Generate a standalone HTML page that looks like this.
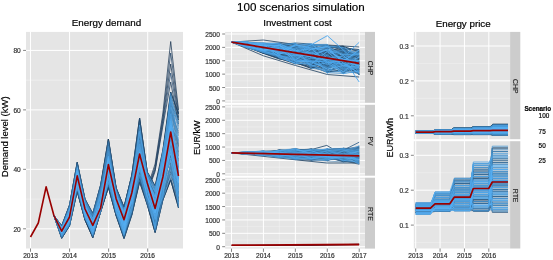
<!DOCTYPE html>
<html><head><meta charset="utf-8"><style>
html,body{margin:0;padding:0;background:#fff;}
body{width:553px;height:260px;overflow:hidden;font-family:"Liberation Sans", sans-serif;}
svg{display:block;will-change:transform;}
</style></head><body>
<svg width="553" height="260" viewBox="0 0 553 260" font-family='"Liberation Sans", sans-serif'>
<style>polyline{fill:none;stroke-linejoin:round;}</style>
<rect x="0.00" y="0.00" width="553.00" height="260.00" fill="#FFFFFF"/>
<text x="237.00" y="11.40" font-size="11.6" fill="#000" stroke="#000" stroke-width="0.18" text-anchor="start" font-weight="normal">100 scenarios simulation</text>
<text x="71.70" y="26.40" font-size="9.85" fill="#000" stroke="#000" stroke-width="0.18" text-anchor="start" font-weight="normal">Energy demand</text>
<text x="263.20" y="26.20" font-size="9.8" fill="#000" stroke="#000" stroke-width="0.18" text-anchor="start" font-weight="normal">Investment cost</text>
<rect x="26.00" y="31.90" width="157.00" height="216.60" fill="#E5E5E5"/>
<line x1="26.00" y1="199.07" x2="183.00" y2="199.07" stroke="#F3F3F3" stroke-width="0.6"/>
<line x1="26.00" y1="139.61" x2="183.00" y2="139.61" stroke="#F3F3F3" stroke-width="0.6"/>
<line x1="26.00" y1="80.15" x2="183.00" y2="80.15" stroke="#F3F3F3" stroke-width="0.6"/>
<line x1="26.00" y1="228.80" x2="183.00" y2="228.80" stroke="#FFFFFF" stroke-width="1.0"/>
<line x1="26.00" y1="169.34" x2="183.00" y2="169.34" stroke="#FFFFFF" stroke-width="1.0"/>
<line x1="26.00" y1="109.88" x2="183.00" y2="109.88" stroke="#FFFFFF" stroke-width="1.0"/>
<line x1="26.00" y1="50.42" x2="183.00" y2="50.42" stroke="#FFFFFF" stroke-width="1.0"/>
<line x1="30.50" y1="31.90" x2="30.50" y2="248.50" stroke="#FFFFFF" stroke-width="1.0"/>
<line x1="69.57" y1="31.90" x2="69.57" y2="248.50" stroke="#FFFFFF" stroke-width="1.0"/>
<line x1="108.64" y1="31.90" x2="108.64" y2="248.50" stroke="#FFFFFF" stroke-width="1.0"/>
<line x1="147.71" y1="31.90" x2="147.71" y2="248.50" stroke="#FFFFFF" stroke-width="1.0"/>
<polyline points="139.6,158.0 147.3,188.0 155.1,164.0 162.9,113.0 170.7,41.5 178.5,110.0" stroke="#1b3652" stroke-width="0.75"/>
<polyline points="139.6,158.0 147.3,190.0 155.1,166.5 162.9,117.0 170.7,53.0 178.5,113.0" stroke="#24456a" stroke-width="0.75"/>
<polyline points="139.6,158.0 147.3,191.0 155.1,169.0 162.9,120.0 170.7,64.0 178.5,117.0" stroke="#1b3652" stroke-width="0.75"/>
<polyline points="139.6,158.0 147.3,192.0 155.1,170.0 162.9,123.0 170.7,73.0 178.5,120.0" stroke="#2b5078" stroke-width="0.75"/>
<polyline points="139.6,158.0 147.3,193.0 155.1,171.5 162.9,126.0 170.7,82.0 178.5,124.0" stroke="#1f3d5c" stroke-width="0.75"/>
<polyline points="53.9,215.5 61.7,225.8 69.5,205.0 77.2,162.3 85.0,199.0 92.8,213.3 100.6,185.0 108.4,139.0 116.2,188.0 124.0,207.0 131.8,175.0 139.6,118.0 147.3,172.0 155.1,186.0 162.9,150.0 170.7,92.0 178.5,114.0" stroke="#1c3d5c" stroke-width="1.0"/>
<polyline points="53.9,215.5 61.7,238.3 69.5,226.0 77.2,191.5 85.0,220.0 92.8,237.7 100.6,212.0 108.4,187.5 116.2,216.0 124.0,238.5 131.8,215.0 139.6,182.0 147.3,205.0 155.1,232.5 162.9,200.0 170.7,180.0 178.5,208.0" stroke="#1c3d5c" stroke-width="1.0"/>
<polyline points="53.9,215.5 61.7,227.0 69.5,209.2 77.2,173.5 85.0,200.9 92.8,218.9 100.6,192.6 108.4,144.3 116.2,192.4 124.0,214.5 131.8,181.7 139.6,119.9 147.3,172.0 155.1,186.0 162.9,155.8 170.7,105.2 178.5,118.0" stroke="#132b43" stroke-width="0.6"/>
<polyline points="53.9,215.5 61.7,234.6 69.5,214.0 77.2,169.6 85.0,207.3 92.8,214.5 100.6,186.1 108.4,139.0 116.2,188.8 124.0,207.3 131.8,177.2 139.6,126.7 147.3,176.4 155.1,194.9 162.9,150.9 170.7,94.6 178.5,119.9" stroke="#183651" stroke-width="0.6"/>
<polyline points="53.9,215.5 61.7,236.8 69.5,218.6 77.2,190.7 85.0,220.0 92.8,237.4 100.6,211.8 108.4,186.4 116.2,210.0 124.0,226.2 131.8,201.1 139.6,172.8 147.3,197.8 155.1,221.9 162.9,198.9 170.7,163.1 178.5,201.9" stroke="#1b3b58" stroke-width="0.6"/>
<polyline points="53.9,215.5 61.7,238.1 69.5,225.8 77.2,190.4 85.0,219.7 92.8,236.2 100.6,211.9 108.4,184.7 116.2,210.8 124.0,234.5 131.8,212.4 139.6,180.6 147.3,200.8 155.1,208.6 162.9,175.1 170.7,119.9 178.5,151.8" stroke="#1d3f5d" stroke-width="0.6"/>
<polyline points="53.9,215.5 61.7,230.5 69.5,210.6 77.2,169.2 85.0,206.9 92.8,230.7 100.6,211.0 108.4,184.2 116.2,215.2 124.0,236.7 131.8,210.3 139.6,178.6 147.3,204.5 155.1,229.6 162.9,192.4 170.7,180.0 178.5,206.5" stroke="#1e4262" stroke-width="0.6"/>
<polyline points="53.9,215.5 61.7,234.1 69.5,225.1 77.2,191.1 85.0,219.2 92.8,236.8 100.6,211.6 108.4,187.5 116.2,216.0 124.0,230.6 131.8,208.8 139.6,173.4 147.3,190.6 155.1,216.8 162.9,189.9 170.7,155.7 178.5,158.4" stroke="#204566" stroke-width="0.6"/>
<polyline points="53.9,215.5 61.7,231.6 69.5,213.8 77.2,186.3 85.0,218.4 92.8,237.7 100.6,212.0 108.4,186.9 116.2,214.8 124.0,238.0 131.8,212.9 139.6,179.3 147.3,201.3 155.1,215.9 162.9,186.4 170.7,138.6 178.5,155.9" stroke="#21486a" stroke-width="0.6"/>
<polyline points="53.9,215.5 61.7,237.8 69.5,222.2 77.2,188.1 85.0,217.9 92.8,225.4 100.6,201.8 108.4,151.9 116.2,203.9 124.0,218.4 131.8,198.0 139.6,177.3 147.3,203.9 155.1,232.5 162.9,200.0 170.7,178.8 178.5,201.2" stroke="#234a6d" stroke-width="0.6"/>
<polyline points="53.9,215.5 61.7,226.1 69.5,205.0 77.2,162.3 85.0,199.0 92.8,216.2 100.6,207.0 108.4,145.1 116.2,189.3 124.0,215.3 131.8,197.2 139.6,168.4 147.3,195.3 155.1,217.3 162.9,186.9 170.7,154.7 178.5,197.5" stroke="#244d70" stroke-width="0.6"/>
<polyline points="53.9,215.5 61.7,228.8 69.5,208.1 77.2,166.8 85.0,203.0 92.8,217.8 100.6,194.6 108.4,150.5 116.2,198.2 124.0,216.1 131.8,182.5 139.6,150.8 147.3,175.1 155.1,189.8 162.9,159.7 170.7,92.0 178.5,114.0" stroke="#254f73" stroke-width="0.6"/>
<polyline points="53.9,215.5 61.7,238.3 69.5,224.9 77.2,190.0 85.0,214.9 92.8,225.9 100.6,208.6 108.4,185.3 116.2,196.9 124.0,220.5 131.8,205.3 139.6,171.5 147.3,203.4 155.1,231.9 162.9,198.3 170.7,172.0 178.5,183.9" stroke="#265176" stroke-width="0.6"/>
<polyline points="53.9,215.5 61.7,235.2 69.5,218.4 77.2,181.6 85.0,202.5 92.8,216.7 100.6,198.6 108.4,174.9 116.2,200.2 124.0,231.5 131.8,214.5 139.6,182.0 147.3,192.9 155.1,226.3 162.9,194.5 170.7,174.2 178.5,198.9" stroke="#275379" stroke-width="0.6"/>
<polyline points="53.9,215.5 61.7,236.9 69.5,220.3 77.2,181.3 85.0,216.6 92.8,235.9 100.6,210.4 108.4,171.1 116.2,213.6 124.0,238.5 131.8,215.0 139.6,178.0 147.3,199.8 155.1,220.4 162.9,188.4 170.7,137.8 178.5,174.7" stroke="#28557b" stroke-width="0.6"/>
<polyline points="53.9,215.5 61.7,228.1 69.5,208.7 77.2,166.0 85.0,206.5 92.8,223.7 100.6,195.6 108.4,139.9 116.2,189.1 124.0,208.8 131.8,175.9 139.6,137.7 147.3,175.6 155.1,195.9 162.9,163.2 170.7,108.5 178.5,144.4" stroke="#29577e" stroke-width="0.6"/>
<polyline points="53.9,215.5 61.7,227.7 69.5,216.3 77.2,184.9 85.0,211.3 92.8,222.6 100.6,198.1 108.4,149.8 116.2,190.6 124.0,212.6 131.8,178.9 139.6,123.4 147.3,174.1 155.1,193.9 162.9,157.4 170.7,101.8 178.5,125.6" stroke="#2a5980" stroke-width="0.6"/>
<polyline points="53.9,215.5 61.7,230.1 69.5,215.3 77.2,172.2 85.0,203.2 92.8,215.3 100.6,185.6 108.4,153.2 116.2,188.3 124.0,207.9 131.8,176.3 139.6,118.0 147.3,173.6 155.1,199.8 162.9,173.6 170.7,130.0 178.5,154.5" stroke="#2b5a83" stroke-width="0.6"/>
<polyline points="53.9,215.5 61.7,230.3 69.5,213.3 77.2,162.7 85.0,200.2 92.8,217.0 100.6,188.3 108.4,143.4 116.2,188.0 124.0,207.0 131.8,175.4 139.6,153.2 147.3,194.3 155.1,211.0 162.9,182.3 170.7,158.8 178.5,173.0" stroke="#2c5c85" stroke-width="0.6"/>
<polyline points="53.9,215.5 61.7,236.0 69.5,221.8 77.2,178.8 85.0,201.4 92.8,220.5 100.6,199.5 108.4,142.6 116.2,190.4 124.0,207.6 131.8,177.6 139.6,138.8 147.3,178.3 155.1,201.1 162.9,175.4 170.7,111.6 178.5,147.4" stroke="#2c5e87" stroke-width="0.6"/>
<polyline points="53.9,215.5 61.7,236.6 69.5,221.3 77.2,191.5 85.0,219.5 92.8,233.1 100.6,211.1 108.4,183.7 116.2,211.2 124.0,212.9 131.8,182.9 139.6,144.6 147.3,174.4 155.1,207.9 162.9,176.9 170.7,130.4 178.5,160.9" stroke="#2d5f89" stroke-width="0.6"/>
<polyline points="53.9,215.5 61.7,226.3 69.5,208.9 77.2,164.0 85.0,205.1 92.8,221.0 100.6,200.0 108.4,154.5 116.2,189.8 124.0,209.7 131.8,202.9 139.6,167.2 147.3,191.1 155.1,208.4 162.9,175.7 170.7,122.2 178.5,145.9" stroke="#2e618c" stroke-width="0.6"/>
<polyline points="53.9,215.5 61.7,237.4 69.5,219.2 77.2,186.7 85.0,212.8 92.8,226.7 100.6,205.2 108.4,161.0 116.2,189.6 124.0,208.2 131.8,175.0 139.6,121.7 147.3,183.9 155.1,230.2 162.9,194.0 170.7,132.2 178.5,167.3" stroke="#2f638e" stroke-width="0.6"/>
<polyline points="53.9,215.5 61.7,230.7 69.5,217.0 77.2,184.2 85.0,209.5 92.8,236.5 100.6,211.5 108.4,185.8 116.2,215.6 124.0,237.1 131.8,211.3 139.6,169.7 147.3,198.3 155.1,227.4 162.9,177.0 170.7,117.3 178.5,168.2" stroke="#306490" stroke-width="0.6"/>
<polyline points="53.9,215.5 61.7,236.5 69.5,224.3 77.2,186.0 85.0,215.2 92.8,228.7 100.6,209.3 108.4,175.9 116.2,203.2 124.0,217.0 131.8,184.5 139.6,155.6 147.3,192.5 155.1,225.2 162.9,196.7 170.7,177.7 178.5,204.2" stroke="#306692" stroke-width="0.6"/>
<polyline points="53.9,215.5 61.7,229.1 69.5,218.9 77.2,185.6 85.0,211.9 92.8,230.4 100.6,210.8 108.4,181.5 116.2,210.4 124.0,222.0 131.8,190.8 139.6,152.5 147.3,178.7 155.1,190.3 162.9,150.0 170.7,109.6 178.5,132.8" stroke="#316794" stroke-width="0.6"/>
<polyline points="53.9,215.5 61.7,230.2 69.5,211.8 77.2,164.4 85.0,206.1 92.8,217.3 100.6,204.8 108.4,164.4 116.2,205.6 124.0,227.4 131.8,207.8 139.6,172.2 147.3,197.3 155.1,222.5 162.9,197.8 170.7,165.3 178.5,204.9" stroke="#326896" stroke-width="0.6"/>
<polyline points="53.9,215.5 61.7,225.8 69.5,205.3 77.2,163.6 85.0,199.7 92.8,215.9 100.6,186.7 108.4,149.0 116.2,195.6 124.0,219.0 131.8,189.2 139.6,159.9 147.3,184.9 155.1,212.2 162.9,176.4 170.7,140.3 178.5,187.1" stroke="#326a97" stroke-width="0.6"/>
<polyline points="53.9,215.5 61.7,232.1 69.5,223.9 77.2,187.4 85.0,209.0 92.8,222.9 100.6,208.3 108.4,163.2 116.2,192.1 124.0,209.4 131.8,176.7 139.6,129.8 147.3,173.8 155.1,192.9 162.9,187.4 170.7,176.5 178.5,189.8" stroke="#336b99" stroke-width="0.6"/>
<polyline points="53.9,215.5 61.7,235.6 69.5,221.4 77.2,189.2 85.0,214.0 92.8,232.8 100.6,208.7 108.4,172.0 116.2,207.8 124.0,234.9 131.8,207.3 139.6,157.4 147.3,189.3 155.1,205.4 162.9,180.2 170.7,168.6 178.5,202.6" stroke="#346d9b" stroke-width="0.6"/>
<polyline points="53.9,215.5 61.7,226.4 69.5,210.0 77.2,165.2 85.0,205.7 92.8,228.5 100.6,210.6 108.4,167.7 116.2,196.1 124.0,223.3 131.8,204.3 139.6,176.7 147.3,202.9 155.1,227.9 162.9,190.4 170.7,128.7 178.5,179.3" stroke="#346e9d" stroke-width="0.6"/>
<polyline points="53.9,215.5 61.7,233.4 69.5,216.8 77.2,183.6 85.0,211.7 92.8,233.9 100.6,211.1 108.4,181.0 116.2,202.9 124.0,229.0 131.8,203.9 139.6,180.0 147.3,194.8 155.1,223.5 162.9,195.6 170.7,170.8 178.5,198.2" stroke="#356f9f" stroke-width="0.6"/>
<polyline points="53.9,215.5 61.7,228.4 69.5,222.6 77.2,174.5 85.0,209.6 92.8,219.9 100.6,208.9 108.4,179.4 116.2,205.2 124.0,236.2 131.8,209.3 139.6,181.3 147.3,201.8 155.1,218.3 162.9,184.1 170.7,144.8 178.5,187.8" stroke="#3670a0" stroke-width="0.6"/>
<polyline points="53.9,215.5 61.7,227.9 69.5,212.8 77.2,164.8 85.0,201.1 92.8,223.5 100.6,207.4 108.4,175.4 116.2,204.2 124.0,222.3 131.8,187.5 139.6,142.9 147.3,172.8 155.1,187.6 162.9,154.2 170.7,112.6 178.5,176.1" stroke="#3672a2" stroke-width="0.6"/>
<polyline points="53.9,215.5 61.7,231.3 69.5,220.1 77.2,180.9 85.0,218.7 92.8,231.2 100.6,209.1 108.4,170.2 116.2,208.9 124.0,233.6 131.8,213.4 139.6,170.3 147.3,200.3 155.1,229.1 162.9,185.0 170.7,145.8 178.5,205.7" stroke="#3773a4" stroke-width="0.6"/>
<polyline points="53.9,215.5 61.7,225.9 69.5,207.3 77.2,167.1 85.0,204.3 92.8,215.0 100.6,199.1 108.4,172.5 116.2,201.9 124.0,217.3 131.8,182.1 139.6,153.9 147.3,182.4 155.1,198.3 162.9,180.6 170.7,156.7 178.5,195.3" stroke="#3874a5" stroke-width="0.6"/>
<polyline points="53.9,215.5 61.7,235.0 69.5,219.9 77.2,177.2 85.0,209.3 92.8,226.1 100.6,192.0 108.4,140.8 116.2,191.1 124.0,211.2 131.8,181.3 139.6,128.3 147.3,173.3 155.1,188.2 162.9,181.4 170.7,125.8 178.5,185.2" stroke="#3875a7" stroke-width="0.6"/>
<polyline points="53.9,215.5 61.7,231.9 69.5,207.0 77.2,165.6 85.0,199.2 92.8,216.5 100.6,209.2 108.4,176.9 116.2,208.5 124.0,219.6 131.8,184.9 139.6,148.2 147.3,177.6 155.1,221.4 162.9,185.9 170.7,135.4 178.5,192.5" stroke="#3977a9" stroke-width="0.6"/>
<polyline points="53.9,215.5 61.7,228.5 69.5,216.0 77.2,174.3 85.0,201.6 92.8,218.1 100.6,200.5 108.4,167.3 116.2,194.3 124.0,210.3 131.8,186.8 139.6,153.7 147.3,192.0 155.1,224.1 162.9,191.4 170.7,152.6 178.5,208.0" stroke="#3978aa" stroke-width="0.6"/>
<polyline points="53.9,215.5 61.7,227.8 69.5,207.8 77.2,173.7 85.0,210.1 92.8,231.5 100.6,201.4 108.4,155.6 116.2,188.5 124.0,208.5 131.8,180.5 139.6,134.0 147.3,177.3 155.1,197.9 162.9,179.0 170.7,129.6 178.5,153.2" stroke="#3a79ac" stroke-width="0.6"/>
<polyline points="53.9,215.5 61.7,235.8 69.5,224.5 77.2,189.6 85.0,217.1 92.8,228.0 100.6,208.5 108.4,177.4 116.2,213.2 124.0,237.6 131.8,213.9 139.6,176.0 147.3,184.6 155.1,210.6 162.9,167.1 170.7,143.0 178.5,173.6" stroke="#3b7aad" stroke-width="0.6"/>
<polyline points="53.9,215.5 61.7,230.8 69.5,210.3 77.2,175.9 85.0,203.4 92.8,224.7 100.6,191.5 108.4,164.2 116.2,195.2 124.0,210.0 131.8,179.7 139.6,146.2 147.3,174.6 155.1,192.4 162.9,165.8 170.7,115.5 178.5,116.0" stroke="#3b7baf" stroke-width="0.6"/>
<polyline points="53.9,215.5 61.7,230.5 69.5,211.3 77.2,171.1 85.0,200.4 92.8,213.3 100.6,189.9 108.4,163.6 116.2,202.3 124.0,232.3 131.8,206.3 139.6,161.0 147.3,186.0 155.1,206.9 162.9,167.7 170.7,98.3 178.5,121.8" stroke="#3c7cb0" stroke-width="0.6"/>
<polyline points="53.9,215.5 61.7,233.7 69.5,217.8 77.2,175.3 85.0,214.2 92.8,229.9 100.6,207.9 108.4,166.9 116.2,193.6 124.0,214.2 131.8,178.0 139.6,136.5 147.3,172.5 155.1,186.5 162.9,161.1 170.7,110.6 178.5,136.2" stroke="#3c7eb2" stroke-width="0.6"/>
<polyline points="53.9,215.5 61.7,236.1 69.5,218.2 77.2,178.5 85.0,207.1 92.8,221.9 100.6,196.1 108.4,146.7 116.2,197.3 124.0,225.1 131.8,187.8 139.6,141.9 147.3,175.4 155.1,193.4 162.9,153.4 170.7,114.5 178.5,131.0" stroke="#3d7fb3" stroke-width="0.6"/>
<polyline points="53.9,215.5 61.7,227.6 69.5,205.6 77.2,163.2 85.0,201.8 92.8,217.6 100.6,209.0 108.4,173.9 116.2,199.3 124.0,221.0 131.8,193.6 139.6,165.5 147.3,193.9 155.1,214.0 162.9,193.0 170.7,167.5 178.5,193.9" stroke="#3d80b5" stroke-width="0.6"/>
<polyline points="53.9,215.5 61.7,227.5 69.5,209.8 77.2,173.2 85.0,204.5 92.8,220.2 100.6,189.4 108.4,155.1 116.2,190.9 124.0,211.5 131.8,179.3 139.6,135.3 147.3,177.1 155.1,191.3 162.9,181.8 170.7,139.5 178.5,178.8" stroke="#3e81b6" stroke-width="0.6"/>
<polyline points="53.9,215.5 61.7,237.1 69.5,224.7 77.2,182.2 85.0,202.1 92.8,225.1 100.6,208.4 108.4,153.8 116.2,194.0 124.0,209.1 131.8,204.8 139.6,175.4 147.3,198.8 155.1,220.9 162.9,171.4 170.7,127.6 178.5,139.6" stroke="#3e82b8" stroke-width="0.6"/>
<polyline points="53.9,215.5 61.7,231.1 69.5,214.5 77.2,174.8 85.0,209.0 92.8,225.4 100.6,210.3 108.4,182.6 116.2,214.4 124.0,235.8 131.8,209.8 139.6,162.6 147.3,193.4 155.1,230.8 162.9,197.2 170.7,166.4 178.5,194.6" stroke="#3f83b9" stroke-width="0.6"/>
<polyline points="53.9,215.5 61.7,234.0 69.5,219.6 77.2,179.7 85.0,209.8 92.8,219.4 100.6,191.0 108.4,168.5 116.2,207.4 124.0,230.2 131.8,208.3 139.6,174.1 147.3,202.4 155.1,223.0 162.9,189.4 170.7,173.1 178.5,191.8" stroke="#3f84ba" stroke-width="0.6"/>
<polyline points="53.9,215.5 61.7,232.6 69.5,217.0 77.2,172.0 85.0,200.7 92.8,214.2 100.6,185.0 108.4,148.3 116.2,193.3 124.0,212.3 131.8,196.8 139.6,153.8 147.3,185.7 155.1,215.4 162.9,174.0 170.7,106.3 178.5,134.5" stroke="#4085bc" stroke-width="0.6"/>
<polyline points="53.9,215.5 61.7,228.2 69.5,206.7 77.2,174.7 85.0,215.6 92.8,224.5 100.6,194.1 108.4,162.0 116.2,201.1 124.0,215.0 131.8,183.3 139.6,141.0 147.3,173.1 155.1,188.7 162.9,169.4 170.7,132.7 178.5,200.4" stroke="#4186bd" stroke-width="0.6"/>
<polyline points="53.9,215.5 61.7,233.5 69.5,219.1 77.2,175.8 85.0,205.9 92.8,213.9 100.6,187.2 108.4,145.9 116.2,191.9 124.0,216.5 131.8,190.5 139.6,149.9 147.3,181.1 155.1,208.2 162.9,172.8 170.7,103.0 178.5,129.2" stroke="#4187bf" stroke-width="0.6"/>
<polyline points="53.9,215.5 61.7,227.1 69.5,206.2 77.2,170.8 85.0,202.7 92.8,214.8 100.6,188.8 108.4,163.8 116.2,196.5 124.0,218.8 131.8,192.5 139.6,156.0 147.3,190.2 155.1,226.8 162.9,177.6 170.7,162.0 178.5,189.1" stroke="#4288c0" stroke-width="0.6"/>
<polyline points="53.9,215.5 61.7,226.7 69.5,208.4 77.2,169.9 85.0,200.0 92.8,213.6 100.6,187.8 108.4,157.3 116.2,197.5 124.0,219.5 131.8,191.1 139.6,154.0 147.3,183.3 155.1,225.7 162.9,182.7 170.7,134.0 178.5,193.2" stroke="#4289c1" stroke-width="0.6"/>
<polyline points="53.9,215.5 61.7,226.2 69.5,210.8 77.2,170.5 85.0,203.6 92.8,215.6 100.6,193.6 108.4,147.5 116.2,192.6 124.0,214.8 131.8,193.9 139.6,153.9 147.3,180.5 155.1,203.8 162.9,174.7 170.7,131.9 178.5,162.0" stroke="#438ac3" stroke-width="0.6"/>
<polyline points="53.9,215.5 61.7,237.6 69.5,223.4 77.2,182.6 85.0,209.2 92.8,221.4 100.6,190.5 108.4,141.7 116.2,192.8 124.0,213.7 131.8,186.0 139.6,153.5 147.3,186.4 155.1,214.9 162.9,193.5 170.7,146.7 178.5,181.0" stroke="#438bc4" stroke-width="0.6"/>
<polyline points="53.9,215.5 61.7,228.6 69.5,206.4 77.2,168.2 85.0,204.7 92.8,219.2 100.6,197.6 108.4,160.6 116.2,199.7 124.0,228.6 131.8,201.5 139.6,151.6 147.3,183.1 155.1,195.4 162.9,166.5 170.7,99.5 178.5,142.8" stroke="#438cc5" stroke-width="0.6"/>
<polyline points="53.9,215.5 61.7,237.3 69.5,226.0 77.2,180.6 85.0,215.9 92.8,232.3 100.6,209.7 108.4,166.5 116.2,194.5 124.0,215.5 131.8,198.9 139.6,156.4 147.3,186.8 155.1,206.2 162.9,178.3 170.7,123.7 178.5,171.6" stroke="#448dc7" stroke-width="0.6"/>
<polyline points="53.9,215.5 61.7,235.5 69.5,223.7 77.2,180.3 85.0,216.4 92.8,234.8 100.6,211.3 108.4,180.5 116.2,199.1 124.0,219.3 131.8,191.7 139.6,151.2 147.3,182.2 155.1,212.7 162.9,185.5 170.7,169.7 178.5,199.7" stroke="#448ec8" stroke-width="0.6"/>
<polyline points="53.9,215.5 61.7,231.4 69.5,218.7 77.2,173.9 85.0,212.2 92.8,225.6 100.6,210.0 108.4,179.9 116.2,209.6 124.0,228.2 131.8,199.8 139.6,148.8 147.3,178.5 155.1,203.3 162.9,158.9 170.7,93.3 178.5,148.9" stroke="#458fc9" stroke-width="0.6"/>
<polyline points="53.9,215.5 61.7,229.9 69.5,220.5 77.2,188.5 85.0,218.2 92.8,233.7 100.6,208.6 108.4,164.0 116.2,195.4 124.0,211.8 131.8,186.4 139.6,146.9 147.3,180.9 155.1,214.5 162.9,190.9 170.7,164.2 178.5,186.5" stroke="#4590ca" stroke-width="0.6"/>
<polyline points="53.9,215.5 61.7,238.0 69.5,223.2 77.2,179.4 85.0,212.6 92.8,235.6 100.6,208.2 108.4,164.5 116.2,194.7 124.0,218.6 131.8,203.4 139.6,164.3 147.3,180.7 155.1,204.2 162.9,173.2 170.7,104.1 178.5,159.7" stroke="#4691cc" stroke-width="0.6"/>
<polyline points="53.9,215.5 61.7,235.3 69.5,225.6 77.2,187.1 85.0,208.4 92.8,233.4 100.6,209.6 108.4,178.4 116.2,214.0 124.0,222.6 131.8,197.6 139.6,154.0 147.3,185.3 155.1,208.9 162.9,168.8 170.7,128.1 178.5,178.3" stroke="#4692cd" stroke-width="0.6"/>
<polyline points="53.9,215.5 61.7,227.2 69.5,217.1 77.2,175.7 85.0,208.1 92.8,235.1 100.6,210.7 108.4,161.3 116.2,198.5 124.0,213.4 131.8,199.3 139.6,152.8 147.3,179.0 155.1,190.8 162.9,160.4 170.7,100.7 178.5,141.2" stroke="#4793ce" stroke-width="0.6"/>
<polyline points="53.9,215.5 61.7,228.3 69.5,213.1 77.2,168.6 85.0,208.7 92.8,227.1 100.6,204.0 108.4,152.5 116.2,191.4 124.0,225.8 131.8,211.8 139.6,154.0 147.3,174.9 155.1,198.8 162.9,170.9 170.7,116.4 178.5,170.8" stroke="#4794cf" stroke-width="0.6"/>
<polyline points="53.9,215.5 61.7,233.8 69.5,215.1 77.2,175.6 85.0,216.9 92.8,235.4 100.6,209.1 108.4,151.2 116.2,190.1 124.0,210.9 131.8,180.1 139.6,139.9 147.3,179.2 155.1,206.5 162.9,178.6 170.7,161.0 178.5,172.3" stroke="#4894d1" stroke-width="0.6"/>
<polyline points="53.9,215.5 61.7,230.0 69.5,205.9 77.2,168.9 85.0,208.0 92.8,224.1 100.6,197.1 108.4,157.8 116.2,197.9 124.0,217.7 131.8,191.4 139.6,166.0 147.3,182.0 155.1,202.0 162.9,155.0 170.7,97.0 178.5,127.4" stroke="#4895d2" stroke-width="0.6"/>
<polyline points="53.9,215.5 61.7,231.0 69.5,221.6 77.2,176.5 85.0,206.3 92.8,224.9 100.6,205.6 108.4,162.7 116.2,212.4 124.0,232.7 131.8,200.2 139.6,170.9 147.3,205.0 155.1,224.6 162.9,184.5 170.7,151.6 178.5,176.9" stroke="#4996d3" stroke-width="0.6"/>
<polyline points="53.9,215.5 61.7,229.8 69.5,215.6 77.2,175.0 85.0,216.1 92.8,237.1 100.6,211.7 108.4,178.9 116.2,204.6 124.0,224.0 131.8,192.0 139.6,157.9 147.3,189.8 155.1,218.8 162.9,191.9 170.7,137.0 178.5,164.3" stroke="#4997d4" stroke-width="0.6"/>
<polyline points="53.9,215.5 61.7,230.4 69.5,216.7 77.2,176.2 85.0,213.5 92.8,227.3 100.6,208.1 108.4,159.7 116.2,195.8 124.0,216.3 131.8,185.6 139.6,147.6 147.3,176.1 155.1,201.6 162.9,163.9 170.7,95.8 178.5,123.7" stroke="#4998d5" stroke-width="0.6"/>
<polyline points="53.9,215.5 61.7,234.4 69.5,217.5 77.2,176.7 85.0,213.0 92.8,230.2 100.6,209.5 108.4,183.1 116.2,212.8 124.0,218.2 131.8,187.1 139.6,154.1 147.3,182.8 155.1,196.4 162.9,151.7 170.7,107.4 178.5,176.0" stroke="#4a99d7" stroke-width="0.6"/>
<polyline points="53.9,215.5 61.7,229.6 69.5,225.3 77.2,188.9 85.0,218.9 92.8,228.2 100.6,208.3 108.4,170.7 116.2,201.3 124.0,224.4 131.8,198.5 139.6,153.4 147.3,183.6 155.1,202.5 162.9,188.9 170.7,143.9 178.5,188.4" stroke="#4a9ad8" stroke-width="0.6"/>
<polyline points="53.9,215.5 61.7,228.9 69.5,217.4 77.2,175.7 85.0,203.8 92.8,220.7 100.6,206.4 108.4,161.7 116.2,200.5 124.0,227.0 131.8,192.7 139.6,132.6 147.3,172.3 155.1,187.1 162.9,164.6 170.7,132.0 178.5,190.4" stroke="#4b9bd9" stroke-width="0.6"/>
<polyline points="53.9,215.5 61.7,227.3 69.5,207.6 77.2,173.0 85.0,210.0 92.8,226.5 100.6,209.8 108.4,165.5 116.2,198.7 124.0,229.8 131.8,205.8 139.6,174.7 147.3,183.0 155.1,194.4 162.9,156.6 170.7,126.4 178.5,185.8" stroke="#4b9bda" stroke-width="0.6"/>
<polyline points="53.9,215.5 61.7,234.7 69.5,219.4 77.2,180.0 85.0,205.5 92.8,222.2 100.6,202.3 108.4,156.8 116.2,198.8 124.0,234.0 131.8,210.8 139.6,166.6 147.3,199.3 155.1,219.3 162.9,187.9 170.7,141.2 178.5,184.6" stroke="#4c9cdb" stroke-width="0.6"/>
<polyline points="53.9,215.5 61.7,233.0 69.5,216.1 77.2,175.4 85.0,199.5 92.8,218.6 100.6,193.1 108.4,159.3 116.2,204.9 124.0,221.7 131.8,202.5 139.6,167.8 147.3,188.0 155.1,209.2 162.9,174.4 170.7,147.7 178.5,196.0" stroke="#4c9ddc" stroke-width="0.6"/>
<polyline points="53.9,215.5 61.7,233.2 69.5,221.1 77.2,187.8 85.0,213.3 92.8,232.6 100.6,210.9 108.4,176.4 116.2,200.8 124.0,220.2 131.8,184.1 139.6,145.4 147.3,176.6 155.1,200.7 162.9,176.2 170.7,121.5 178.5,177.8" stroke="#4d9ede" stroke-width="0.6"/>
<polyline points="53.9,215.5 61.7,231.7 69.5,218.1 77.2,172.8 85.0,205.3 92.8,227.8 100.6,208.1 108.4,165.8 116.2,197.1 124.0,210.6 131.8,178.4 139.6,143.8 147.3,180.1 155.1,199.3 162.9,152.6 170.7,118.2 178.5,175.5" stroke="#4d9fdf" stroke-width="0.6"/>
<polyline points="53.9,215.5 61.7,234.3 69.5,212.6 77.2,167.9 85.0,204.9 92.8,223.1 100.6,210.1 108.4,164.8 116.2,198.4 124.0,223.0 131.8,194.9 139.6,131.2 147.3,179.8 155.1,217.8 162.9,196.2 170.7,149.6 178.5,179.9" stroke="#4da0e0" stroke-width="0.6"/>
<polyline points="53.9,215.5 61.7,234.9 69.5,222.8 77.2,177.4 85.0,210.7 92.8,226.9 100.6,210.2 108.4,164.6 116.2,197.7 124.0,231.9 131.8,194.2 139.6,159.4 147.3,187.2 155.1,207.6 162.9,176.8 170.7,159.9 178.5,203.4" stroke="#4ea1e1" stroke-width="0.6"/>
<polyline points="53.9,215.5 61.7,231.2 69.5,222.0 77.2,174.1 85.0,208.8 92.8,234.2 100.6,211.4 108.4,182.0 116.2,206.0 124.0,221.3 131.8,188.5 139.6,150.4 147.3,179.6 155.1,197.4 162.9,179.8 170.7,133.3 178.5,150.4" stroke="#4ea1e2" stroke-width="0.6"/>
<polyline points="53.9,215.5 61.7,226.8 69.5,211.6 77.2,166.4 85.0,207.6 92.8,222.4 100.6,206.7 108.4,162.4 116.2,191.6 124.0,223.7 131.8,189.5 139.6,158.4 147.3,181.9 155.1,207.2 162.9,172.3 170.7,119.0 178.5,177.3" stroke="#4fa2e3" stroke-width="0.6"/>
<polyline points="53.9,215.5 61.7,232.2 69.5,217.9 77.2,170.2 85.0,207.4 92.8,226.3 100.6,208.8 108.4,169.8 116.2,200.0 124.0,215.8 131.8,193.3 139.6,153.6 147.3,182.7 155.1,231.3 162.9,199.4 170.7,175.4 178.5,182.1" stroke="#4fa3e4" stroke-width="0.6"/>
<polyline points="53.9,215.5 61.7,229.5 69.5,212.1 77.2,171.7 85.0,208.6 92.8,229.2 100.6,203.6 108.4,162.9 116.2,207.0 124.0,229.4 131.8,195.7 139.6,155.2 147.3,181.5 155.1,211.8 162.9,183.2 170.7,148.7 178.5,207.2" stroke="#4fa4e5" stroke-width="0.6"/>
<polyline points="53.9,215.5 61.7,229.4 69.5,211.1 77.2,172.5 85.0,210.3 92.8,224.3 100.6,208.8 108.4,168.9 116.2,202.6 124.0,227.8 131.8,196.0 139.6,164.9 147.3,188.9 155.1,189.2 162.9,161.8 170.7,124.4 178.5,191.1" stroke="#50a5e6" stroke-width="0.6"/>
<polyline points="53.9,215.5 61.7,232.7 69.5,219.8 77.2,179.1 85.0,217.6 92.8,234.5 100.6,210.5 108.4,174.4 116.2,206.7 124.0,217.5 131.8,190.2 139.6,149.4 147.3,181.7 155.1,209.5 162.9,165.2 170.7,113.6 178.5,175.1" stroke="#50a5e7" stroke-width="0.6"/>
<polyline points="53.9,215.5 61.7,236.3 69.5,224.1 77.2,183.2 85.0,211.1 92.8,228.9 100.6,208.2 108.4,158.8 116.2,195.0 124.0,216.8 131.8,193.1 139.6,163.7 147.3,178.0 155.1,209.9 162.9,178.0 170.7,129.1 178.5,157.2" stroke="#51a6e9" stroke-width="0.6"/>
<polyline points="53.9,215.5 61.7,231.0 69.5,214.7 77.2,183.9 85.0,214.4 92.8,232.0 100.6,211.2 108.4,173.4 116.2,193.1 124.0,217.9 131.8,188.2 139.6,161.5 147.3,188.5 155.1,219.8 162.9,195.1 170.7,130.8 178.5,180.4" stroke="#51a7ea" stroke-width="0.6"/>
<polyline points="53.9,215.5 61.7,230.9 69.5,213.6 77.2,167.5 85.0,202.3 92.8,223.3 100.6,210.1 108.4,169.3 116.2,209.3 124.0,233.2 131.8,206.8 139.6,154.0 147.3,184.2 155.1,200.2 162.9,181.0 170.7,157.8 178.5,196.7" stroke="#51a8eb" stroke-width="0.6"/>
<polyline points="53.9,215.5 61.7,231.2 69.5,215.8 77.2,175.1 85.0,206.7 92.8,218.4 100.6,195.1 108.4,173.0 116.2,199.5 124.0,219.2 131.8,200.6 139.6,169.0 147.3,196.3 155.1,228.5 162.9,177.1 170.7,123.0 178.5,165.3" stroke="#52a9ec" stroke-width="0.6"/>
<polyline points="53.9,215.5 61.7,232.8 69.5,217.6 77.2,178.2 85.0,207.8 92.8,229.7 100.6,208.0 108.4,164.5 116.2,196.3 124.0,213.2 131.8,185.3 139.6,125.1 147.3,176.8 155.1,202.9 162.9,170.4 170.7,150.6 178.5,175.8" stroke="#52a9ed" stroke-width="0.6"/>
<polyline points="53.9,215.5 61.7,229.0 69.5,216.5 77.2,181.9 85.0,212.4 92.8,223.9 100.6,196.6 108.4,158.3 116.2,211.6 124.0,225.5 131.8,192.9 139.6,152.2 147.3,175.9 155.1,191.9 162.9,158.2 170.7,131.7 178.5,174.2" stroke="#53aaee" stroke-width="0.6"/>
<polyline points="53.9,215.5 61.7,229.3 69.5,214.3 77.2,178.0 85.0,217.4 92.8,219.7 100.6,203.2 108.4,160.2 116.2,212.0 124.0,235.4 131.8,194.6 139.6,160.4 147.3,182.5 155.1,213.5 162.9,176.0 170.7,131.1 178.5,169.1" stroke="#53abef" stroke-width="0.6"/>
<polyline points="53.9,215.5 61.7,226.6 69.5,209.5 77.2,175.5 85.0,210.9 92.8,221.2 100.6,207.7 108.4,166.1 116.2,201.6 124.0,224.7 131.8,195.3 139.6,158.9 147.3,191.5 155.1,210.2 162.9,168.2 170.7,120.7 178.5,166.3" stroke="#53acf0" stroke-width="0.6"/>
<polyline points="53.9,215.5 61.7,232.3 69.5,220.9 77.2,177.7 85.0,214.7 92.8,231.7 100.6,202.7 108.4,156.2 116.2,193.8 124.0,214.0 131.8,189.9 139.6,151.9 147.3,181.3 155.1,196.9 162.9,162.5 170.7,134.7 178.5,181.6" stroke="#54acf1" stroke-width="0.6"/>
<polyline points="53.9,215.5 61.7,232.4 69.5,223.0 77.2,184.6 85.0,215.4 92.8,230.9 100.6,209.6 108.4,168.1 116.2,199.0 124.0,212.0 131.8,180.9 139.6,156.9 147.3,187.6 155.1,211.4 162.9,179.4 170.7,136.2 178.5,182.7" stroke="#54adf2" stroke-width="0.6"/>
<polyline points="53.9,215.5 61.7,231.5 69.5,220.7 77.2,182.9 85.0,210.5 92.8,227.5 100.6,209.4 108.4,177.9 116.2,203.5 124.0,220.8 131.8,183.7 139.6,163.2 147.3,195.8 155.1,216.3 162.9,183.6 170.7,127.0 178.5,170.0" stroke="#54aef3" stroke-width="0.6"/>
<polyline points="53.9,215.5 61.7,230.6 69.5,214.9 77.2,171.4 85.0,208.3 92.8,221.7 100.6,200.9 108.4,164.3 116.2,208.1 124.0,220.0 131.8,188.9 139.6,154.8 147.3,179.4 155.1,205.0 162.9,169.9 170.7,125.1 178.5,137.9" stroke="#55aff4" stroke-width="0.6"/>
<polyline points="53.9,215.5 61.7,233.1 69.5,222.4 77.2,176.9 85.0,213.7 92.8,229.4 100.6,209.9 108.4,171.6 116.2,196.7 124.0,226.6 131.8,196.4 139.6,154.4 147.3,180.3 155.1,204.6 162.9,171.9 170.7,131.4 178.5,176.5" stroke="#55b0f5" stroke-width="0.6"/>
<polyline points="53.9,215.5 61.7,229.2 69.5,212.3 77.2,176.0 85.0,204.1 92.8,225.2 100.6,204.4 108.4,165.1 116.2,198.0 124.0,219.8 131.8,202.0 139.6,162.0 147.3,196.8 155.1,213.1 162.9,176.6 170.7,142.1 178.5,163.2" stroke="#56b0f6" stroke-width="0.6"/>
<polyline points="53.9,215.5 61.7,231.8 69.5,217.3 77.2,185.3 85.0,211.5 92.8,225.7 100.6,206.0 108.4,163.4 116.2,206.3 124.0,231.0 131.8,192.3 139.6,153.0 147.3,177.8 155.1,205.8 162.9,177.3 170.7,153.7 178.5,183.3" stroke="#56b1f7" stroke-width="0.6"/>
<polyline points="53.9,215.5 61.7,225.8 69.5,205.0 77.2,162.3 85.0,199.0 92.8,213.3 100.6,185.0 108.4,139.0 116.2,188.0 124.0,207.0 131.8,175.0 139.6,118.0 147.3,172.0 155.1,186.0" stroke="#1f4466" stroke-width="0.45"/>
<polyline points="53.9,215.5 61.7,238.3 69.5,226.0 77.2,191.5 85.0,220.0 92.8,237.7 100.6,212.0 108.4,187.5 116.2,216.0 124.0,238.5 131.8,215.0 139.6,182.0 147.3,205.0 155.1,232.5 162.9,200.0 170.7,180.0 178.5,208.0" stroke="#1f4466" stroke-width="0.45"/>
<polyline points="30.5,237.0 38.3,223.0 46.1,186.8 53.9,215.5 61.7,231.2 69.5,217.0 77.2,175.8 85.0,209.0 92.8,225.4 100.6,208.0 108.4,164.5 116.2,199.0 124.0,219.7 131.8,193.0 139.6,154.0 147.3,183.0 155.1,208.5 162.9,177.0 170.7,132.0 178.5,176.0" stroke="#990000" stroke-width="1.6"/>
<line x1="23.10" y1="228.80" x2="26.00" y2="228.80" stroke="#333333" stroke-width="0.6"/>
<text x="20.80" y="231.78" font-size="6.6" fill="#303030" stroke="#303030" stroke-width="0.18" text-anchor="end" font-weight="normal">20</text>
<line x1="23.10" y1="169.34" x2="26.00" y2="169.34" stroke="#333333" stroke-width="0.6"/>
<text x="20.80" y="172.32" font-size="6.6" fill="#303030" stroke="#303030" stroke-width="0.18" text-anchor="end" font-weight="normal">40</text>
<line x1="23.10" y1="109.88" x2="26.00" y2="109.88" stroke="#333333" stroke-width="0.6"/>
<text x="20.80" y="112.86" font-size="6.6" fill="#303030" stroke="#303030" stroke-width="0.18" text-anchor="end" font-weight="normal">60</text>
<line x1="23.10" y1="50.42" x2="26.00" y2="50.42" stroke="#333333" stroke-width="0.6"/>
<text x="20.80" y="53.40" font-size="6.6" fill="#303030" stroke="#303030" stroke-width="0.18" text-anchor="end" font-weight="normal">80</text>
<line x1="30.50" y1="248.50" x2="30.50" y2="251.80" stroke="#333333" stroke-width="0.6"/>
<text x="30.50" y="258.20" font-size="6.6" fill="#303030" stroke="#303030" stroke-width="0.18" text-anchor="middle" font-weight="normal">2013</text>
<line x1="69.57" y1="248.50" x2="69.57" y2="251.80" stroke="#333333" stroke-width="0.6"/>
<text x="69.57" y="258.20" font-size="6.6" fill="#303030" stroke="#303030" stroke-width="0.18" text-anchor="middle" font-weight="normal">2014</text>
<line x1="108.64" y1="248.50" x2="108.64" y2="251.80" stroke="#333333" stroke-width="0.6"/>
<text x="108.64" y="258.20" font-size="6.6" fill="#303030" stroke="#303030" stroke-width="0.18" text-anchor="middle" font-weight="normal">2015</text>
<line x1="147.71" y1="248.50" x2="147.71" y2="251.80" stroke="#333333" stroke-width="0.6"/>
<text x="147.71" y="258.20" font-size="6.6" fill="#303030" stroke="#303030" stroke-width="0.18" text-anchor="middle" font-weight="normal">2016</text>
<text x="8.30" y="177.20" font-size="9.5" fill="#000" stroke="#000" stroke-width="0.18" text-anchor="start" font-weight="normal" transform="rotate(-90 8.30 177.20)">Demand level (kW)</text>
<rect x="225.10" y="31.90" width="139.90" height="70.90" fill="#E5E5E5"/>
<line x1="225.10" y1="94.21" x2="365.00" y2="94.21" stroke="#F3F3F3" stroke-width="0.5"/>
<line x1="225.10" y1="80.83" x2="365.00" y2="80.83" stroke="#F3F3F3" stroke-width="0.5"/>
<line x1="225.10" y1="67.45" x2="365.00" y2="67.45" stroke="#F3F3F3" stroke-width="0.5"/>
<line x1="225.10" y1="54.07" x2="365.00" y2="54.07" stroke="#F3F3F3" stroke-width="0.5"/>
<line x1="225.10" y1="40.69" x2="365.00" y2="40.69" stroke="#F3F3F3" stroke-width="0.5"/>
<line x1="247.47" y1="31.90" x2="247.47" y2="102.80" stroke="#F3F3F3" stroke-width="0.5"/>
<line x1="279.39" y1="31.90" x2="279.39" y2="102.80" stroke="#F3F3F3" stroke-width="0.5"/>
<line x1="311.32" y1="31.90" x2="311.32" y2="102.80" stroke="#F3F3F3" stroke-width="0.5"/>
<line x1="343.25" y1="31.90" x2="343.25" y2="102.80" stroke="#F3F3F3" stroke-width="0.5"/>
<line x1="225.10" y1="100.90" x2="365.00" y2="100.90" stroke="#FFFFFF" stroke-width="1.0"/>
<line x1="225.10" y1="87.52" x2="365.00" y2="87.52" stroke="#FFFFFF" stroke-width="1.0"/>
<line x1="225.10" y1="74.14" x2="365.00" y2="74.14" stroke="#FFFFFF" stroke-width="1.0"/>
<line x1="225.10" y1="60.76" x2="365.00" y2="60.76" stroke="#FFFFFF" stroke-width="1.0"/>
<line x1="225.10" y1="47.38" x2="365.00" y2="47.38" stroke="#FFFFFF" stroke-width="1.0"/>
<line x1="225.10" y1="34.00" x2="365.00" y2="34.00" stroke="#FFFFFF" stroke-width="1.0"/>
<line x1="231.50" y1="31.90" x2="231.50" y2="102.80" stroke="#FFFFFF" stroke-width="1.0"/>
<line x1="263.43" y1="31.90" x2="263.43" y2="102.80" stroke="#FFFFFF" stroke-width="1.0"/>
<line x1="295.36" y1="31.90" x2="295.36" y2="102.80" stroke="#FFFFFF" stroke-width="1.0"/>
<line x1="327.29" y1="31.90" x2="327.29" y2="102.80" stroke="#FFFFFF" stroke-width="1.0"/>
<line x1="359.22" y1="31.90" x2="359.22" y2="102.80" stroke="#FFFFFF" stroke-width="1.0"/>
<rect x="365.00" y="31.90" width="10.00" height="70.90" fill="#CCCCCC"/>
<text x="367.52" y="68.15" font-size="6.9" fill="#1A1A1A" stroke="#1A1A1A" stroke-width="0.1" text-anchor="middle" font-weight="normal" transform="rotate(90 367.52 68.15)">CHP</text>
<line x1="222.20" y1="100.90" x2="225.10" y2="100.90" stroke="#333333" stroke-width="0.6"/>
<text x="219.90" y="103.88" font-size="6.6" fill="#303030" stroke="#303030" stroke-width="0.18" text-anchor="end" font-weight="normal">0</text>
<line x1="222.20" y1="87.52" x2="225.10" y2="87.52" stroke="#333333" stroke-width="0.6"/>
<text x="219.90" y="90.50" font-size="6.6" fill="#303030" stroke="#303030" stroke-width="0.18" text-anchor="end" font-weight="normal">500</text>
<line x1="222.20" y1="74.14" x2="225.10" y2="74.14" stroke="#333333" stroke-width="0.6"/>
<text x="219.90" y="77.12" font-size="6.6" fill="#303030" stroke="#303030" stroke-width="0.18" text-anchor="end" font-weight="normal">1000</text>
<line x1="222.20" y1="60.76" x2="225.10" y2="60.76" stroke="#333333" stroke-width="0.6"/>
<text x="219.90" y="63.74" font-size="6.6" fill="#303030" stroke="#303030" stroke-width="0.18" text-anchor="end" font-weight="normal">1500</text>
<line x1="222.20" y1="47.38" x2="225.10" y2="47.38" stroke="#333333" stroke-width="0.6"/>
<text x="219.90" y="50.36" font-size="6.6" fill="#303030" stroke="#303030" stroke-width="0.18" text-anchor="end" font-weight="normal">2000</text>
<line x1="222.20" y1="34.00" x2="225.10" y2="34.00" stroke="#333333" stroke-width="0.6"/>
<text x="219.90" y="36.98" font-size="6.6" fill="#303030" stroke="#303030" stroke-width="0.18" text-anchor="end" font-weight="normal">2500</text>
<rect x="225.10" y="104.80" width="139.90" height="70.90" fill="#E5E5E5"/>
<line x1="225.10" y1="167.11" x2="365.00" y2="167.11" stroke="#F3F3F3" stroke-width="0.5"/>
<line x1="225.10" y1="153.73" x2="365.00" y2="153.73" stroke="#F3F3F3" stroke-width="0.5"/>
<line x1="225.10" y1="140.35" x2="365.00" y2="140.35" stroke="#F3F3F3" stroke-width="0.5"/>
<line x1="225.10" y1="126.97" x2="365.00" y2="126.97" stroke="#F3F3F3" stroke-width="0.5"/>
<line x1="225.10" y1="113.59" x2="365.00" y2="113.59" stroke="#F3F3F3" stroke-width="0.5"/>
<line x1="247.47" y1="104.80" x2="247.47" y2="175.70" stroke="#F3F3F3" stroke-width="0.5"/>
<line x1="279.39" y1="104.80" x2="279.39" y2="175.70" stroke="#F3F3F3" stroke-width="0.5"/>
<line x1="311.32" y1="104.80" x2="311.32" y2="175.70" stroke="#F3F3F3" stroke-width="0.5"/>
<line x1="343.25" y1="104.80" x2="343.25" y2="175.70" stroke="#F3F3F3" stroke-width="0.5"/>
<line x1="225.10" y1="173.80" x2="365.00" y2="173.80" stroke="#FFFFFF" stroke-width="1.0"/>
<line x1="225.10" y1="160.42" x2="365.00" y2="160.42" stroke="#FFFFFF" stroke-width="1.0"/>
<line x1="225.10" y1="147.04" x2="365.00" y2="147.04" stroke="#FFFFFF" stroke-width="1.0"/>
<line x1="225.10" y1="133.66" x2="365.00" y2="133.66" stroke="#FFFFFF" stroke-width="1.0"/>
<line x1="225.10" y1="120.28" x2="365.00" y2="120.28" stroke="#FFFFFF" stroke-width="1.0"/>
<line x1="225.10" y1="106.90" x2="365.00" y2="106.90" stroke="#FFFFFF" stroke-width="1.0"/>
<line x1="231.50" y1="104.80" x2="231.50" y2="175.70" stroke="#FFFFFF" stroke-width="1.0"/>
<line x1="263.43" y1="104.80" x2="263.43" y2="175.70" stroke="#FFFFFF" stroke-width="1.0"/>
<line x1="295.36" y1="104.80" x2="295.36" y2="175.70" stroke="#FFFFFF" stroke-width="1.0"/>
<line x1="327.29" y1="104.80" x2="327.29" y2="175.70" stroke="#FFFFFF" stroke-width="1.0"/>
<line x1="359.22" y1="104.80" x2="359.22" y2="175.70" stroke="#FFFFFF" stroke-width="1.0"/>
<rect x="365.00" y="104.80" width="10.00" height="70.90" fill="#CCCCCC"/>
<text x="367.52" y="141.05" font-size="6.9" fill="#1A1A1A" stroke="#1A1A1A" stroke-width="0.1" text-anchor="middle" font-weight="normal" transform="rotate(90 367.52 141.05)">PV</text>
<line x1="222.20" y1="173.80" x2="225.10" y2="173.80" stroke="#333333" stroke-width="0.6"/>
<text x="219.90" y="176.78" font-size="6.6" fill="#303030" stroke="#303030" stroke-width="0.18" text-anchor="end" font-weight="normal">0</text>
<line x1="222.20" y1="160.42" x2="225.10" y2="160.42" stroke="#333333" stroke-width="0.6"/>
<text x="219.90" y="163.40" font-size="6.6" fill="#303030" stroke="#303030" stroke-width="0.18" text-anchor="end" font-weight="normal">500</text>
<line x1="222.20" y1="147.04" x2="225.10" y2="147.04" stroke="#333333" stroke-width="0.6"/>
<text x="219.90" y="150.02" font-size="6.6" fill="#303030" stroke="#303030" stroke-width="0.18" text-anchor="end" font-weight="normal">1000</text>
<line x1="222.20" y1="133.66" x2="225.10" y2="133.66" stroke="#333333" stroke-width="0.6"/>
<text x="219.90" y="136.64" font-size="6.6" fill="#303030" stroke="#303030" stroke-width="0.18" text-anchor="end" font-weight="normal">1500</text>
<line x1="222.20" y1="120.28" x2="225.10" y2="120.28" stroke="#333333" stroke-width="0.6"/>
<text x="219.90" y="123.26" font-size="6.6" fill="#303030" stroke="#303030" stroke-width="0.18" text-anchor="end" font-weight="normal">2000</text>
<line x1="222.20" y1="106.90" x2="225.10" y2="106.90" stroke="#333333" stroke-width="0.6"/>
<text x="219.90" y="109.88" font-size="6.6" fill="#303030" stroke="#303030" stroke-width="0.18" text-anchor="end" font-weight="normal">2500</text>
<rect x="225.10" y="177.70" width="139.90" height="70.90" fill="#E5E5E5"/>
<line x1="225.10" y1="240.01" x2="365.00" y2="240.01" stroke="#F3F3F3" stroke-width="0.5"/>
<line x1="225.10" y1="226.63" x2="365.00" y2="226.63" stroke="#F3F3F3" stroke-width="0.5"/>
<line x1="225.10" y1="213.25" x2="365.00" y2="213.25" stroke="#F3F3F3" stroke-width="0.5"/>
<line x1="225.10" y1="199.87" x2="365.00" y2="199.87" stroke="#F3F3F3" stroke-width="0.5"/>
<line x1="225.10" y1="186.49" x2="365.00" y2="186.49" stroke="#F3F3F3" stroke-width="0.5"/>
<line x1="247.47" y1="177.70" x2="247.47" y2="248.60" stroke="#F3F3F3" stroke-width="0.5"/>
<line x1="279.39" y1="177.70" x2="279.39" y2="248.60" stroke="#F3F3F3" stroke-width="0.5"/>
<line x1="311.32" y1="177.70" x2="311.32" y2="248.60" stroke="#F3F3F3" stroke-width="0.5"/>
<line x1="343.25" y1="177.70" x2="343.25" y2="248.60" stroke="#F3F3F3" stroke-width="0.5"/>
<line x1="225.10" y1="246.70" x2="365.00" y2="246.70" stroke="#FFFFFF" stroke-width="1.0"/>
<line x1="225.10" y1="233.32" x2="365.00" y2="233.32" stroke="#FFFFFF" stroke-width="1.0"/>
<line x1="225.10" y1="219.94" x2="365.00" y2="219.94" stroke="#FFFFFF" stroke-width="1.0"/>
<line x1="225.10" y1="206.56" x2="365.00" y2="206.56" stroke="#FFFFFF" stroke-width="1.0"/>
<line x1="225.10" y1="193.18" x2="365.00" y2="193.18" stroke="#FFFFFF" stroke-width="1.0"/>
<line x1="225.10" y1="179.80" x2="365.00" y2="179.80" stroke="#FFFFFF" stroke-width="1.0"/>
<line x1="231.50" y1="177.70" x2="231.50" y2="248.60" stroke="#FFFFFF" stroke-width="1.0"/>
<line x1="263.43" y1="177.70" x2="263.43" y2="248.60" stroke="#FFFFFF" stroke-width="1.0"/>
<line x1="295.36" y1="177.70" x2="295.36" y2="248.60" stroke="#FFFFFF" stroke-width="1.0"/>
<line x1="327.29" y1="177.70" x2="327.29" y2="248.60" stroke="#FFFFFF" stroke-width="1.0"/>
<line x1="359.22" y1="177.70" x2="359.22" y2="248.60" stroke="#FFFFFF" stroke-width="1.0"/>
<rect x="365.00" y="177.70" width="10.00" height="70.90" fill="#CCCCCC"/>
<text x="367.52" y="213.95" font-size="6.9" fill="#1A1A1A" stroke="#1A1A1A" stroke-width="0.1" text-anchor="middle" font-weight="normal" transform="rotate(90 367.52 213.95)">RTE</text>
<line x1="222.20" y1="246.70" x2="225.10" y2="246.70" stroke="#333333" stroke-width="0.6"/>
<text x="219.90" y="249.68" font-size="6.6" fill="#303030" stroke="#303030" stroke-width="0.18" text-anchor="end" font-weight="normal">0</text>
<line x1="222.20" y1="233.32" x2="225.10" y2="233.32" stroke="#333333" stroke-width="0.6"/>
<text x="219.90" y="236.30" font-size="6.6" fill="#303030" stroke="#303030" stroke-width="0.18" text-anchor="end" font-weight="normal">500</text>
<line x1="222.20" y1="219.94" x2="225.10" y2="219.94" stroke="#333333" stroke-width="0.6"/>
<text x="219.90" y="222.92" font-size="6.6" fill="#303030" stroke="#303030" stroke-width="0.18" text-anchor="end" font-weight="normal">1000</text>
<line x1="222.20" y1="206.56" x2="225.10" y2="206.56" stroke="#333333" stroke-width="0.6"/>
<text x="219.90" y="209.54" font-size="6.6" fill="#303030" stroke="#303030" stroke-width="0.18" text-anchor="end" font-weight="normal">1500</text>
<line x1="222.20" y1="193.18" x2="225.10" y2="193.18" stroke="#333333" stroke-width="0.6"/>
<text x="219.90" y="196.16" font-size="6.6" fill="#303030" stroke="#303030" stroke-width="0.18" text-anchor="end" font-weight="normal">2000</text>
<line x1="222.20" y1="179.80" x2="225.10" y2="179.80" stroke="#333333" stroke-width="0.6"/>
<text x="219.90" y="182.78" font-size="6.6" fill="#303030" stroke="#303030" stroke-width="0.18" text-anchor="end" font-weight="normal">2500</text>
<polyline points="231.5,42.1 263.4,40.0 295.4,44.5 327.3,45.0 359.2,47.0" stroke="#1d3f5f" stroke-width="0.8"/>
<polyline points="231.5,42.1 263.4,55.8 295.4,65.5 327.3,74.5 359.2,77.0" stroke="#1d3f5f" stroke-width="0.8"/>
<polyline points="231.5,42.1 247.5,47.6 263.4,47.3 279.4,46.3 295.4,53.3 311.3,67.5 327.3,66.9 343.3,53.4 359.2,55.3" stroke="#132b43" stroke-width="0.9"/>
<polyline points="231.5,42.1 247.5,46.9 263.4,48.6 279.4,49.2 295.4,52.3 311.3,56.1 327.3,51.0 343.3,59.1 359.2,64.5" stroke="#132c44" stroke-width="0.9"/>
<polyline points="231.5,42.1 247.5,45.9 263.4,51.3 279.4,48.0 295.4,58.0 311.3,59.4 327.3,53.8 343.3,60.0 359.2,68.6" stroke="#142c45" stroke-width="0.9"/>
<polyline points="231.5,42.1 247.5,46.9 263.4,53.1 279.4,58.6 295.4,63.7 311.3,51.3 327.3,57.6 343.3,55.0 359.2,67.6" stroke="#142d46" stroke-width="0.9"/>
<polyline points="231.5,42.1 247.5,45.2 263.4,49.5 279.4,48.8 295.4,53.2 311.3,50.3 327.3,72.9 343.3,61.2 359.2,63.1" stroke="#142e47" stroke-width="0.9"/>
<polyline points="231.5,42.1 247.5,42.5 263.4,44.1 279.4,53.5 295.4,59.8 311.3,60.5 327.3,53.3 343.3,73.0 359.2,58.8" stroke="#152f48" stroke-width="0.9"/>
<polyline points="231.5,42.1 247.5,45.1 263.4,45.2 279.4,50.6 295.4,60.5 311.3,57.2 327.3,60.4 343.3,62.3 359.2,58.5" stroke="#153049" stroke-width="0.9"/>
<polyline points="231.5,42.1 247.5,42.2 263.4,46.1 279.4,43.5 295.4,47.9 311.3,54.9 327.3,68.6 343.3,52.5 359.2,57.4" stroke="#16314a" stroke-width="0.9"/>
<polyline points="231.5,42.1 247.5,46.4 263.4,44.3 279.4,57.3 295.4,52.0 311.3,63.3 327.3,57.2 343.3,64.0 359.2,73.9" stroke="#16324c" stroke-width="0.9"/>
<polyline points="231.5,42.1 247.5,45.6 263.4,45.3 279.4,46.9 295.4,43.9 311.3,66.9 327.3,48.3 343.3,46.0 359.2,67.8" stroke="#17334d" stroke-width="0.9"/>
<polyline points="231.5,42.1 247.5,45.0 263.4,50.8 279.4,48.4 295.4,49.9 311.3,58.4 327.3,60.7 343.3,58.4 359.2,72.5" stroke="#17344e" stroke-width="0.9"/>
<polyline points="231.5,42.1 247.5,45.7 263.4,44.7 279.4,49.9 295.4,51.7 311.3,54.7 327.3,65.6 343.3,57.3 359.2,64.1" stroke="#183550" stroke-width="0.9"/>
<polyline points="231.5,42.1 247.5,46.5 263.4,53.3 279.4,46.1 295.4,51.9 311.3,46.5 327.3,53.6 343.3,74.0 359.2,56.8" stroke="#183651" stroke-width="0.9"/>
<polyline points="231.5,42.1 247.5,46.1 263.4,48.3 279.4,56.1 295.4,47.1 311.3,61.6 327.3,50.4 343.3,49.5 359.2,63.8" stroke="#193753" stroke-width="0.9"/>
<polyline points="231.5,42.1 247.5,44.1 263.4,45.0 279.4,48.6 295.4,52.9 311.3,54.5 327.3,48.6 343.3,46.7 359.2,66.7" stroke="#193854" stroke-width="0.9"/>
<polyline points="231.5,42.1 247.5,43.3 263.4,43.1 279.4,45.2 295.4,49.5 311.3,44.3 327.3,64.6 343.3,66.1 359.2,61.6" stroke="#1a3956" stroke-width="0.9"/>
<polyline points="231.5,42.1 247.5,45.6 263.4,51.4 279.4,53.9 295.4,62.6 311.3,68.5 327.3,58.1 343.3,56.7 359.2,55.9" stroke="#1b3a57" stroke-width="0.9"/>
<polyline points="231.5,42.1 247.5,43.9 263.4,47.4 279.4,51.9 295.4,57.3 311.3,48.6 327.3,65.9 343.3,60.2 359.2,61.4" stroke="#1b3b59" stroke-width="0.9"/>
<polyline points="231.5,42.1 247.5,42.3 263.4,46.9 279.4,43.3 295.4,57.1 311.3,56.5 327.3,71.5 343.3,70.8 359.2,69.6" stroke="#1c3c5a" stroke-width="0.9"/>
<polyline points="231.5,42.1 247.5,45.7 263.4,52.8 279.4,53.3 295.4,54.9 311.3,50.8 327.3,58.9 343.3,68.4 359.2,60.2" stroke="#1c3d5c" stroke-width="0.9"/>
<polyline points="231.5,42.1 247.5,44.3 263.4,48.4 279.4,50.3 295.4,48.1 311.3,47.8 327.3,51.9 343.3,46.4 359.2,51.9" stroke="#1d3f5d" stroke-width="0.9"/>
<polyline points="231.5,42.1 247.5,43.7 263.4,46.7 279.4,57.5 295.4,62.1 311.3,65.4 327.3,57.8 343.3,50.5 359.2,75.0" stroke="#1d405f" stroke-width="0.9"/>
<polyline points="231.5,42.1 247.5,45.5 263.4,53.0 279.4,56.9 295.4,56.2 311.3,48.3 327.3,53.0 343.3,58.1 359.2,57.7" stroke="#1e4161" stroke-width="0.9"/>
<polyline points="231.5,42.1 247.5,43.3 263.4,46.6 279.4,47.6 295.4,53.5 311.3,63.6 327.3,63.0 343.3,62.0 359.2,72.8" stroke="#1f4262" stroke-width="0.9"/>
<polyline points="231.5,42.1 247.5,43.2 263.4,44.5 279.4,49.9 295.4,48.5 311.3,59.9 327.3,45.7 343.3,47.1 359.2,64.7" stroke="#1f4364" stroke-width="0.9"/>
<polyline points="231.5,42.1 247.5,43.0 263.4,47.1 279.4,56.5 295.4,49.7 311.3,45.6 327.3,45.4 343.3,49.1 359.2,50.3" stroke="#204566" stroke-width="0.9"/>
<polyline points="231.5,42.1 247.5,42.7 263.4,46.8 279.4,58.4 295.4,51.5 311.3,62.7 327.3,69.7 343.3,48.1 359.2,59.1" stroke="#204667" stroke-width="0.9"/>
<polyline points="231.5,42.1 247.5,44.4 263.4,49.6 279.4,49.4 295.4,54.1 311.3,52.9 327.3,54.9 343.3,53.1 359.2,74.2" stroke="#214769" stroke-width="0.9"/>
<polyline points="231.5,42.1 247.5,43.4 263.4,52.7 279.4,58.1 295.4,55.3 311.3,51.8 327.3,49.2 343.3,69.9 359.2,62.1" stroke="#22486b" stroke-width="0.9"/>
<polyline points="231.5,42.1 247.5,46.2 263.4,47.8 279.4,50.1 295.4,63.5 311.3,66.6 327.3,72.2 343.3,69.6 359.2,72.2" stroke="#224a6c" stroke-width="0.9"/>
<polyline points="231.5,42.1 247.5,46.7 263.4,51.8 279.4,50.4 295.4,46.8 311.3,56.3 327.3,56.1 343.3,65.3 359.2,59.4" stroke="#234b6e" stroke-width="0.9"/>
<polyline points="231.5,42.1 247.5,47.4 263.4,53.4 279.4,59.0 295.4,61.8 311.3,67.9 327.3,55.9 343.3,70.5 359.2,66.4" stroke="#244c70" stroke-width="0.9"/>
<polyline points="231.5,42.1 247.5,46.6 263.4,48.0 279.4,47.9 295.4,60.8 311.3,58.9 327.3,66.2 343.3,67.2 359.2,50.9" stroke="#244e71" stroke-width="0.9"/>
<polyline points="231.5,42.1 247.5,44.6 263.4,48.7 279.4,54.1 295.4,44.2 311.3,50.1 327.3,54.4 343.3,63.0 359.2,69.3" stroke="#254f73" stroke-width="0.9"/>
<polyline points="231.5,42.1 247.5,44.3 263.4,49.2 279.4,43.7 295.4,62.4 311.3,51.1 327.3,68.3 343.3,64.2 359.2,74.4" stroke="#265075" stroke-width="0.9"/>
<polyline points="231.5,42.1 247.5,45.2 263.4,43.5 279.4,49.1 295.4,53.7 311.3,61.0 327.3,47.6 343.3,51.8 359.2,54.7" stroke="#265177" stroke-width="0.9"/>
<polyline points="231.5,42.1 247.5,43.8 263.4,47.0 279.4,54.9 295.4,52.6 311.3,65.7 327.3,63.3 343.3,60.6 359.2,70.1" stroke="#275378" stroke-width="0.9"/>
<polyline points="231.5,42.1 247.5,44.6 263.4,46.0 279.4,49.3 295.4,53.9 311.3,64.8 327.3,62.1 343.3,56.4 359.2,51.6" stroke="#28547a" stroke-width="0.9"/>
<polyline points="231.5,42.1 247.5,45.8 263.4,51.7 279.4,49.8 295.4,46.0 311.3,59.6 327.3,56.4 343.3,50.8 359.2,71.2" stroke="#28557c" stroke-width="0.9"/>
<polyline points="231.5,42.1 247.5,45.4 263.4,48.8 279.4,48.2 295.4,58.5 311.3,54.3 327.3,52.2 343.3,56.2 359.2,52.9" stroke="#29577e" stroke-width="0.9"/>
<polyline points="231.5,42.1 247.5,47.8 263.4,52.1 279.4,43.8 295.4,49.1 311.3,49.3 327.3,56.8 343.3,47.8 359.2,49.6" stroke="#2a5880" stroke-width="0.9"/>
<polyline points="231.5,42.1 247.5,46.7 263.4,48.1 279.4,58.8 295.4,52.4 311.3,55.2 327.3,55.6 343.3,52.8 359.2,68.3" stroke="#2a5a81" stroke-width="0.9"/>
<polyline points="231.5,42.1 247.5,42.9 263.4,45.6 279.4,47.7 295.4,59.5 311.3,53.3 327.3,59.1 343.3,57.0 359.2,70.6" stroke="#2b5b83" stroke-width="0.9"/>
<polyline points="231.5,42.1 247.5,45.1 263.4,43.6 279.4,51.8 295.4,51.0 311.3,62.4 327.3,64.9 343.3,67.8 359.2,71.4" stroke="#2c5c85" stroke-width="0.9"/>
<polyline points="231.5,42.1 247.5,44.0 263.4,47.9 279.4,51.3 295.4,47.5 311.3,57.4 327.3,71.1 343.3,67.0 359.2,65.3" stroke="#2c5e87" stroke-width="0.9"/>
<polyline points="231.5,42.1 247.5,47.5 263.4,47.6 279.4,55.5 295.4,51.4 311.3,59.1 327.3,61.8 343.3,52.1 359.2,65.5" stroke="#2d5f89" stroke-width="0.9"/>
<polyline points="231.5,42.1 247.5,42.8 263.4,45.1 279.4,46.6 295.4,47.3 311.3,55.5 327.3,49.8 343.3,58.9 359.2,54.4" stroke="#2e608b" stroke-width="0.9"/>
<polyline points="231.5,42.1 247.5,47.7 263.4,51.0 279.4,45.0 295.4,46.4 311.3,51.5 327.3,45.1 343.3,63.7 359.2,62.9" stroke="#2e628d" stroke-width="0.9"/>
<polyline points="231.5,42.1 247.5,44.8 263.4,46.0 279.4,44.7 295.4,43.0 311.3,44.0 327.3,51.6 343.3,64.5 359.2,62.3" stroke="#2f638f" stroke-width="0.9"/>
<polyline points="231.5,42.1 247.5,43.5 263.4,47.4 279.4,44.5 295.4,60.3 311.3,49.6 327.3,54.6 343.3,51.5 359.2,66.9" stroke="#306590" stroke-width="0.9"/>
<polyline points="231.5,42.1 247.5,43.2 263.4,49.9 279.4,45.5 295.4,48.9 311.3,57.6 327.3,59.3 343.3,48.8 359.2,63.3" stroke="#316692" stroke-width="0.9"/>
<polyline points="231.5,42.1 247.5,47.3 263.4,44.0 279.4,52.4 295.4,56.6 311.3,54.1 327.3,52.4 343.3,62.5 359.2,58.3" stroke="#316794" stroke-width="0.9"/>
<polyline points="231.5,42.1 247.5,43.6 263.4,47.6 279.4,54.5 295.4,45.3 311.3,52.2 327.3,57.4 343.3,72.4 359.2,59.6" stroke="#326996" stroke-width="0.9"/>
<polyline points="231.5,42.1 247.5,44.7 263.4,49.1 279.4,52.8 295.4,54.7 311.3,53.7 327.3,47.9 343.3,71.1 359.2,73.3" stroke="#336a98" stroke-width="0.9"/>
<polyline points="231.5,42.1 247.5,44.6 263.4,47.3 279.4,44.2 295.4,44.4 311.3,55.0 327.3,66.6 343.3,60.9 359.2,56.5" stroke="#336c9a" stroke-width="0.9"/>
<polyline points="231.5,42.1 247.5,43.5 263.4,48.9 279.4,51.4 295.4,45.7 311.3,44.8 327.3,55.4 343.3,62.7 359.2,73.6" stroke="#346d9c" stroke-width="0.9"/>
<polyline points="231.5,42.1 247.5,46.3 263.4,46.5 279.4,50.7 295.4,47.7 311.3,47.3 327.3,63.6 343.3,68.7 359.2,70.4" stroke="#356f9e" stroke-width="0.9"/>
<polyline points="231.5,42.1 247.5,44.9 263.4,50.2 279.4,52.1 295.4,55.1 311.3,58.6 327.3,61.5 343.3,51.2 359.2,51.2" stroke="#3670a0" stroke-width="0.9"/>
<polyline points="231.5,42.1 247.5,46.0 263.4,47.2 279.4,49.5 295.4,44.8 311.3,60.2 327.3,61.2 343.3,72.7 359.2,62.7" stroke="#3672a2" stroke-width="0.9"/>
<polyline points="231.5,42.1 247.5,44.8 263.4,52.3 279.4,55.7 295.4,57.6 311.3,45.4 327.3,47.0 343.3,48.4 359.2,58.0" stroke="#3773a4" stroke-width="0.9"/>
<polyline points="231.5,42.1 247.5,45.3 263.4,45.4 279.4,57.9 295.4,50.8 311.3,64.5 327.3,70.7 343.3,66.7 359.2,71.7" stroke="#3874a6" stroke-width="0.9"/>
<polyline points="231.5,42.1 247.5,43.6 263.4,46.3 279.4,51.6 295.4,52.7 311.3,67.2 327.3,57.0 343.3,58.6 359.2,52.5" stroke="#3876a8" stroke-width="0.9"/>
<polyline points="231.5,42.1 247.5,46.8 263.4,46.6 279.4,44.3 295.4,43.5 311.3,61.3 327.3,67.2 343.3,65.0 359.2,68.8" stroke="#3977aa" stroke-width="0.9"/>
<polyline points="231.5,42.1 247.5,46.1 263.4,43.9 279.4,50.8 295.4,58.3 311.3,66.3 327.3,69.3 343.3,57.8 359.2,64.0" stroke="#3a79ac" stroke-width="0.9"/>
<polyline points="231.5,42.1 247.5,47.0 263.4,44.6 279.4,53.2 295.4,50.1 311.3,47.5 327.3,47.3 343.3,54.0 359.2,63.5" stroke="#3b7aae" stroke-width="0.9"/>
<polyline points="231.5,42.1 247.5,44.9 263.4,50.5 279.4,56.3 295.4,64.0 311.3,55.9 327.3,58.4 343.3,68.1 359.2,65.8" stroke="#3b7cb0" stroke-width="0.9"/>
<polyline points="231.5,42.1 247.5,44.2 263.4,46.4 279.4,47.3 295.4,48.7 311.3,47.0 327.3,52.7 343.3,49.8 359.2,55.6" stroke="#3c7db2" stroke-width="0.9"/>
<polyline points="231.5,42.1 247.5,43.1 263.4,43.7 279.4,47.0 295.4,46.2 311.3,45.9 327.3,70.0 343.3,67.5 359.2,60.4" stroke="#3d7fb4" stroke-width="0.9"/>
<polyline points="231.5,42.1 247.5,42.6 263.4,43.4 279.4,43.0 295.4,52.2 311.3,50.6 327.3,63.9 343.3,61.8 359.2,50.6" stroke="#3e80b6" stroke-width="0.9"/>
<polyline points="231.5,42.1 247.5,47.1 263.4,51.6 279.4,49.7 295.4,50.3 311.3,52.5 327.3,71.8 343.3,53.7 359.2,52.2" stroke="#3e82b8" stroke-width="0.9"/>
<polyline points="231.5,42.1 247.5,42.5 263.4,50.9 279.4,46.7 295.4,59.3 311.3,55.7 327.3,54.1 343.3,50.2 359.2,69.8" stroke="#3f83ba" stroke-width="0.9"/>
<polyline points="231.5,42.1 247.5,43.0 263.4,48.2 279.4,50.0 295.4,56.4 311.3,53.1 327.3,57.9 343.3,64.7 359.2,63.6" stroke="#4085bc" stroke-width="0.9"/>
<polyline points="231.5,42.1 247.5,44.7 263.4,52.0 279.4,55.1 295.4,61.3 311.3,63.9 327.3,56.6 343.3,70.2 359.2,62.5" stroke="#4186be" stroke-width="0.9"/>
<polyline points="231.5,42.1 247.5,42.8 263.4,49.4 279.4,55.3 295.4,59.0 311.3,52.7 327.3,44.7 343.3,61.6 359.2,61.9" stroke="#4188c0" stroke-width="0.9"/>
<polyline points="231.5,42.1 247.5,43.7 263.4,45.5 279.4,43.2 295.4,53.0 311.3,62.1 327.3,67.9 343.3,60.4 359.2,53.2" stroke="#4289c2" stroke-width="0.9"/>
<polyline points="231.5,42.1 247.5,44.0 263.4,52.5 279.4,57.1 295.4,55.5 311.3,60.7 327.3,67.6 343.3,63.5 359.2,64.9" stroke="#438bc4" stroke-width="0.9"/>
<polyline points="231.5,42.1 247.5,44.2 263.4,44.2 279.4,46.0 295.4,58.8 311.3,46.2 327.3,49.5 343.3,54.4 359.2,60.9" stroke="#448dc6" stroke-width="0.9"/>
<polyline points="231.5,42.1 247.5,46.3 263.4,47.5 279.4,50.2 295.4,57.8 311.3,46.7 327.3,64.3 343.3,71.5 359.2,56.2" stroke="#458ec8" stroke-width="0.9"/>
<polyline points="231.5,42.1 247.5,43.9 263.4,46.2 279.4,54.3 295.4,43.7 311.3,58.1 327.3,60.1 343.3,61.0 359.2,74.7" stroke="#4590ca" stroke-width="0.9"/>
<polyline points="231.5,42.1 247.5,42.7 263.4,47.7 279.4,51.0 295.4,50.5 311.3,44.5 327.3,44.4 343.3,69.0 359.2,53.5" stroke="#4691cc" stroke-width="0.9"/>
<polyline points="231.5,42.1 247.5,47.4 263.4,43.2 279.4,49.0 295.4,56.9 311.3,65.1 327.3,72.6 343.3,73.4 359.2,66.2" stroke="#4793ce" stroke-width="0.9"/>
<polyline points="231.5,42.1 247.5,44.5 263.4,49.0 279.4,47.2 295.4,46.6 311.3,68.2 327.3,70.4 343.3,72.1 359.2,64.3" stroke="#4894d0" stroke-width="0.9"/>
<polyline points="231.5,42.1 247.5,44.1 263.4,44.8 279.4,46.4 295.4,43.2 311.3,55.4 327.3,58.6 343.3,69.3 359.2,65.1" stroke="#4896d3" stroke-width="0.9"/>
<polyline points="231.5,42.1 247.5,47.7 263.4,52.4 279.4,55.9 295.4,61.6 311.3,55.3 327.3,65.2 343.3,55.6 359.2,68.1" stroke="#4997d5" stroke-width="0.9"/>
<polyline points="231.5,42.1 247.5,47.2 263.4,49.7 279.4,52.3 295.4,54.3 311.3,63.0 327.3,55.1 343.3,65.8 359.2,69.1" stroke="#4a99d7" stroke-width="0.9"/>
<polyline points="231.5,42.1 247.5,42.4 263.4,47.2 279.4,48.7 295.4,48.3 311.3,45.1 327.3,46.0 343.3,47.4 359.2,55.0" stroke="#4b9bd9" stroke-width="0.9"/>
<polyline points="231.5,42.1 247.5,42.1 263.4,45.7 279.4,56.7 295.4,62.9 311.3,57.9 327.3,59.6 343.3,59.8 359.2,61.2" stroke="#4c9cdb" stroke-width="0.9"/>
<polyline points="231.5,42.1 247.5,44.5 263.4,44.4 279.4,45.3 295.4,51.2 311.3,53.5 327.3,73.3 343.3,57.6 359.2,53.8" stroke="#4c9edd" stroke-width="0.9"/>
<polyline points="231.5,42.1 247.5,46.5 263.4,50.6 279.4,51.1 295.4,45.1 311.3,49.8 327.3,46.4 343.3,55.3 359.2,72.0" stroke="#4d9fdf" stroke-width="0.9"/>
<polyline points="231.5,42.1 247.5,44.8 263.4,51.2 279.4,45.8 295.4,55.7 311.3,53.9 327.3,50.1 343.3,54.7 359.2,54.1" stroke="#4ea1e1" stroke-width="0.9"/>
<polyline points="231.5,42.1 247.5,45.3 263.4,46.9 279.4,52.6 295.4,45.5 311.3,43.7 327.3,58.2 343.3,55.9 359.2,67.1" stroke="#4fa3e4" stroke-width="0.9"/>
<polyline points="231.5,42.1 247.5,42.3 263.4,43.3 279.4,53.0 295.4,55.9 311.3,52.0 327.3,59.8 343.3,59.4 359.2,63.2" stroke="#50a4e6" stroke-width="0.9"/>
<polyline points="231.5,42.1 247.5,42.0 263.4,45.9 279.4,53.7 295.4,49.3 311.3,66.0 327.3,62.7 343.3,73.7 359.2,70.9" stroke="#50a6e8" stroke-width="0.9"/>
<polyline points="231.5,42.1 247.5,45.0 263.4,43.8 279.4,57.7 295.4,63.2 311.3,64.2 327.3,51.3 343.3,66.4 359.2,57.1" stroke="#51a7ea" stroke-width="0.9"/>
<polyline points="231.5,42.1 247.5,47.1 263.4,50.1 279.4,47.5 295.4,54.5 311.3,56.9 327.3,60.9 343.3,71.8 359.2,59.9" stroke="#52a9ec" stroke-width="0.9"/>
<polyline points="231.5,42.1 247.5,42.1 263.4,50.0 279.4,48.3 295.4,61.1 311.3,61.8 327.3,69.0 343.3,65.6 359.2,67.4" stroke="#53abee" stroke-width="0.9"/>
<polyline points="231.5,42.1 247.5,45.4 263.4,44.9 279.4,54.7 295.4,44.6 311.3,48.1 327.3,50.7 343.3,59.6 359.2,60.7" stroke="#54acf0" stroke-width="0.9"/>
<polyline points="231.5,42.1 247.5,44.4 263.4,43.0 279.4,44.0 295.4,50.7 311.3,48.8 327.3,62.4 343.3,60.7 359.2,66.0" stroke="#54aef3" stroke-width="0.9"/>
<polyline points="231.5,42.1 247.5,45.9 263.4,50.4 279.4,44.8 295.4,60.0 311.3,49.1 327.3,46.7 343.3,63.2 359.2,73.0" stroke="#55aff5" stroke-width="0.9"/>
<polyline points="231.5,42.1 247.5,44.7 263.4,45.8 279.4,45.6 295.4,52.7 311.3,56.7 327.3,48.9 343.3,61.4 359.2,49.9" stroke="#56b1f7" stroke-width="0.9"/>
<polyline points="231.5,42.1 295.4,53.6 327.3,35.7 347.3,53.5 359.2,42.3" stroke="#4aa6ee" stroke-width="0.9"/>
<polyline points="231.5,42.1 295.4,60.0 327.3,62.0 347.3,64.3 359.2,82.0" stroke="#4aa6ee" stroke-width="0.9"/>
<polyline points="231.5,42.1 359.2,63.3" stroke="#990000" stroke-width="1.8"/>
<polyline points="231.5,152.9 313.0,149.1 326.8,145.4 332.3,148.7 359.2,148.0" stroke="#24496b" stroke-width="0.85"/>
<polyline points="231.5,152.9 344.8,149.5 359.2,142.2" stroke="#2f5f8a" stroke-width="0.85"/>
<polyline points="231.5,152.9 295.4,159.8 326.8,163.0 359.2,163.0" stroke="#24496b" stroke-width="0.85"/>
<polyline points="231.5,152.9 247.5,153.3 263.4,151.6 279.4,155.7 295.4,156.6 311.3,156.8 327.3,156.2 343.3,161.2 359.2,162.4" stroke="#132b43" stroke-width="0.55"/>
<polyline points="231.5,152.9 247.5,153.3 263.4,153.1 279.4,151.1 295.4,153.1 311.3,148.8 327.3,158.6 343.3,156.8 359.2,157.2" stroke="#142c45" stroke-width="0.55"/>
<polyline points="231.5,152.9 247.5,153.2 263.4,153.9 279.4,156.5 295.4,150.5 311.3,159.9 327.3,157.3 343.3,159.1 359.2,151.9" stroke="#142e47" stroke-width="0.55"/>
<polyline points="231.5,152.9 247.5,154.0 263.4,153.7 279.4,153.3 295.4,156.1 311.3,160.1 327.3,148.8 343.3,159.4 359.2,158.3" stroke="#152f48" stroke-width="0.55"/>
<polyline points="231.5,152.9 247.5,152.5 263.4,153.7 279.4,157.4 295.4,156.3 311.3,153.4 327.3,152.3 343.3,152.0 359.2,158.7" stroke="#16304a" stroke-width="0.55"/>
<polyline points="231.5,152.9 247.5,152.9 263.4,154.2 279.4,152.0 295.4,149.4 311.3,160.2 327.3,154.7 343.3,161.1 359.2,157.8" stroke="#16324c" stroke-width="0.55"/>
<polyline points="231.5,152.9 247.5,153.5 263.4,152.2 279.4,151.5 295.4,153.7 311.3,153.3 327.3,157.4 343.3,161.8 359.2,153.4" stroke="#17334e" stroke-width="0.55"/>
<polyline points="231.5,152.9 247.5,153.5 263.4,154.2 279.4,157.0 295.4,154.2 311.3,157.1 327.3,155.1 343.3,148.9 359.2,156.3" stroke="#183450" stroke-width="0.55"/>
<polyline points="231.5,152.9 247.5,153.3 263.4,153.1 279.4,153.6 295.4,159.5 311.3,160.5 327.3,159.5 343.3,158.7 359.2,153.2" stroke="#183652" stroke-width="0.55"/>
<polyline points="231.5,152.9 247.5,153.8 263.4,152.7 279.4,150.2 295.4,153.5 311.3,153.7 327.3,158.8 343.3,151.5 359.2,150.0" stroke="#193753" stroke-width="0.55"/>
<polyline points="231.5,152.9 247.5,153.4 263.4,154.9 279.4,157.2 295.4,153.9 311.3,149.1 327.3,151.7 343.3,150.6 359.2,156.1" stroke="#1a3955" stroke-width="0.55"/>
<polyline points="231.5,152.9 247.5,152.4 263.4,153.5 279.4,153.0 295.4,156.0 311.3,155.9 327.3,156.1 343.3,160.3 359.2,163.4" stroke="#1a3a57" stroke-width="0.55"/>
<polyline points="231.5,152.9 247.5,153.7 263.4,154.0 279.4,156.1 295.4,157.0 311.3,153.1 327.3,155.6 343.3,159.6 359.2,155.9" stroke="#1b3b59" stroke-width="0.55"/>
<polyline points="231.5,152.9 247.5,153.4 263.4,152.4 279.4,150.4 295.4,152.7 311.3,149.9 327.3,154.2 343.3,152.6 359.2,156.0" stroke="#1c3d5b" stroke-width="0.55"/>
<polyline points="231.5,152.9 247.5,154.0 263.4,154.0 279.4,149.9 295.4,151.4 311.3,150.5 327.3,156.9 343.3,161.4 359.2,161.4" stroke="#1c3e5c" stroke-width="0.55"/>
<polyline points="231.5,152.9 247.5,153.7 263.4,154.6 279.4,154.0 295.4,158.6 311.3,154.9 327.3,150.2 343.3,153.9 359.2,162.8" stroke="#1d3f5e" stroke-width="0.55"/>
<polyline points="231.5,152.9 247.5,152.0 263.4,154.3 279.4,155.6 295.4,158.2 311.3,154.2 327.3,156.8 343.3,161.5 359.2,155.9" stroke="#1e4160" stroke-width="0.55"/>
<polyline points="231.5,152.9 247.5,153.6 263.4,152.3 279.4,154.5 295.4,157.3 311.3,152.8 327.3,159.3 343.3,151.3 359.2,160.1" stroke="#1f4262" stroke-width="0.55"/>
<polyline points="231.5,152.9 247.5,153.5 263.4,152.5 279.4,151.7 295.4,148.5 311.3,152.5 327.3,153.2 343.3,157.3 359.2,160.7" stroke="#1f4364" stroke-width="0.55"/>
<polyline points="231.5,152.9 247.5,153.0 263.4,154.6 279.4,155.1 295.4,155.2 311.3,151.3 327.3,158.3 343.3,153.2 359.2,164.2" stroke="#204566" stroke-width="0.55"/>
<polyline points="231.5,152.9 247.5,152.5 263.4,153.6 279.4,152.7 295.4,149.7 311.3,150.1 327.3,149.8 343.3,152.4 359.2,159.7" stroke="#214667" stroke-width="0.55"/>
<polyline points="231.5,152.9 247.5,153.6 263.4,154.8 279.4,150.1 295.4,151.3 311.3,152.2 327.3,149.9 343.3,155.7 359.2,152.8" stroke="#214769" stroke-width="0.55"/>
<polyline points="231.5,152.9 247.5,153.6 263.4,152.9 279.4,153.4 295.4,150.0 311.3,156.4 327.3,155.2 343.3,160.6 359.2,164.4" stroke="#22496b" stroke-width="0.55"/>
<polyline points="231.5,152.9 247.5,153.1 263.4,151.9 279.4,157.1 295.4,155.4 311.3,157.7 327.3,157.1 343.3,148.0 359.2,151.7" stroke="#234a6d" stroke-width="0.55"/>
<polyline points="231.5,152.9 247.5,153.4 263.4,153.7 279.4,155.0 295.4,152.2 311.3,156.2 327.3,153.0 343.3,155.5 359.2,163.2" stroke="#234b6f" stroke-width="0.55"/>
<polyline points="231.5,152.9 247.5,152.4 263.4,153.8 279.4,150.8 295.4,154.5 311.3,159.8 327.3,152.0 343.3,153.8 359.2,150.6" stroke="#244d70" stroke-width="0.55"/>
<polyline points="231.5,152.9 247.5,153.5 263.4,153.9 279.4,153.9 295.4,149.0 311.3,150.6 327.3,151.1 343.3,158.0 359.2,146.4" stroke="#254e72" stroke-width="0.55"/>
<polyline points="231.5,152.9 247.5,152.9 263.4,151.2 279.4,156.8 295.4,157.5 311.3,152.7 327.3,155.0 343.3,158.4 359.2,148.8" stroke="#255074" stroke-width="0.55"/>
<polyline points="231.5,152.9 247.5,152.9 263.4,154.3 279.4,153.4 295.4,149.8 311.3,151.6 327.3,151.4 343.3,155.0 359.2,146.9" stroke="#265176" stroke-width="0.55"/>
<polyline points="231.5,152.9 247.5,153.3 263.4,153.2 279.4,152.9 295.4,155.7 311.3,151.0 327.3,160.6 343.3,154.5 359.2,157.5" stroke="#275278" stroke-width="0.55"/>
<polyline points="231.5,152.9 247.5,153.8 263.4,153.6 279.4,152.3 295.4,154.9 311.3,157.5 327.3,155.0 343.3,161.7 359.2,161.8" stroke="#27547a" stroke-width="0.55"/>
<polyline points="231.5,152.9 247.5,154.1 263.4,155.3 279.4,155.1 295.4,159.2 311.3,155.6 327.3,155.3 343.3,160.5 359.2,162.0" stroke="#28557b" stroke-width="0.55"/>
<polyline points="231.5,152.9 247.5,152.7 263.4,151.7 279.4,156.3 295.4,154.9 311.3,155.0 327.3,151.9 343.3,152.1 359.2,158.0" stroke="#29567d" stroke-width="0.55"/>
<polyline points="231.5,152.9 247.5,153.0 263.4,152.6 279.4,153.2 295.4,150.4 311.3,157.9 327.3,149.6 343.3,148.7 359.2,150.9" stroke="#29587f" stroke-width="0.55"/>
<polyline points="231.5,152.9 247.5,152.6 263.4,151.1 279.4,151.6 295.4,150.6 311.3,151.7 327.3,159.7 343.3,148.5 359.2,153.6" stroke="#2a5981" stroke-width="0.55"/>
<polyline points="231.5,152.9 247.5,153.0 263.4,153.0 279.4,156.6 295.4,155.1 311.3,149.8 327.3,151.0 343.3,155.6 359.2,154.5" stroke="#2b5a83" stroke-width="0.55"/>
<polyline points="231.5,152.9 247.5,153.2 263.4,152.8 279.4,154.3 295.4,157.4 311.3,153.6 327.3,149.1 343.3,159.0 359.2,158.5" stroke="#2b5c84" stroke-width="0.55"/>
<polyline points="231.5,152.9 247.5,152.2 263.4,152.9 279.4,154.5 295.4,156.7 311.3,156.9 327.3,153.5 343.3,152.8 359.2,147.4" stroke="#2c5d86" stroke-width="0.55"/>
<polyline points="231.5,152.9 247.5,152.6 263.4,154.5 279.4,151.4 295.4,159.1 311.3,159.5 327.3,154.5 343.3,152.3 359.2,156.5" stroke="#2d5e88" stroke-width="0.55"/>
<polyline points="231.5,152.9 247.5,153.7 263.4,151.4 279.4,152.5 295.4,155.3 311.3,158.6 327.3,158.0 343.3,155.6 359.2,157.7" stroke="#2d608a" stroke-width="0.55"/>
<polyline points="231.5,152.9 247.5,154.0 263.4,155.1 279.4,156.2 295.4,154.2 311.3,154.3 327.3,156.0 343.3,155.9 359.2,163.0" stroke="#2e618c" stroke-width="0.55"/>
<polyline points="231.5,152.9 247.5,154.1 263.4,152.4 279.4,155.5 295.4,154.1 311.3,154.6 327.3,160.7 343.3,149.8 359.2,147.2" stroke="#2f628e" stroke-width="0.55"/>
<polyline points="231.5,152.9 247.5,153.6 263.4,153.4 279.4,150.0 295.4,154.5 311.3,157.2 327.3,160.0 343.3,157.4 359.2,161.2" stroke="#2f648f" stroke-width="0.55"/>
<polyline points="231.5,152.9 247.5,153.6 263.4,155.1 279.4,154.8 295.4,154.3 311.3,159.0 327.3,152.8 343.3,150.1 359.2,155.5" stroke="#306591" stroke-width="0.55"/>
<polyline points="231.5,152.9 247.5,153.9 263.4,153.6 279.4,155.4 295.4,152.8 311.3,150.9 327.3,160.9 343.3,154.9 359.2,147.9" stroke="#316793" stroke-width="0.55"/>
<polyline points="231.5,152.9 247.5,152.7 263.4,154.1 279.4,149.8 295.4,149.1 311.3,156.6 327.3,156.6 343.3,151.8 359.2,161.0" stroke="#316895" stroke-width="0.55"/>
<polyline points="231.5,152.9 247.5,153.2 263.4,155.0 279.4,156.8 295.4,151.9 311.3,151.8 327.3,154.3 343.3,150.0 359.2,146.2" stroke="#326997" stroke-width="0.55"/>
<polyline points="231.5,152.9 247.5,153.5 263.4,153.9 279.4,151.9 295.4,148.4 311.3,154.8 327.3,153.4 343.3,158.6 359.2,156.9" stroke="#336b98" stroke-width="0.55"/>
<polyline points="231.5,152.9 247.5,153.2 263.4,152.1 279.4,152.4 295.4,151.2 311.3,148.9 327.3,155.2 343.3,159.7 359.2,154.8" stroke="#336c9a" stroke-width="0.55"/>
<polyline points="231.5,152.9 247.5,154.2 263.4,155.0 279.4,154.0 295.4,150.8 311.3,159.4 327.3,160.3 343.3,153.5 359.2,158.2" stroke="#346d9c" stroke-width="0.55"/>
<polyline points="231.5,152.9 247.5,152.7 263.4,154.4 279.4,154.1 295.4,152.6 311.3,149.7 327.3,154.8 343.3,154.4 359.2,148.4" stroke="#356f9e" stroke-width="0.55"/>
<polyline points="231.5,152.9 247.5,153.1 263.4,152.6 279.4,154.8 295.4,154.4 311.3,154.7 327.3,156.3 343.3,153.4 359.2,150.2" stroke="#3670a0" stroke-width="0.55"/>
<polyline points="231.5,152.9 247.5,153.7 263.4,153.8 279.4,157.3 295.4,156.9 311.3,152.3 327.3,154.6 343.3,154.6 359.2,153.0" stroke="#3671a2" stroke-width="0.55"/>
<polyline points="231.5,152.9 247.5,153.7 263.4,154.9 279.4,155.9 295.4,156.2 311.3,157.6 327.3,159.1 343.3,158.3 359.2,153.8" stroke="#3773a3" stroke-width="0.55"/>
<polyline points="231.5,152.9 247.5,154.0 263.4,155.3 279.4,149.7 295.4,154.7 311.3,155.5 327.3,148.7 343.3,156.6 359.2,146.7" stroke="#3874a5" stroke-width="0.55"/>
<polyline points="231.5,152.9 247.5,153.2 263.4,154.8 279.4,154.6 295.4,153.0 311.3,149.5 327.3,151.3 343.3,156.5 359.2,148.6" stroke="#3875a7" stroke-width="0.55"/>
<polyline points="231.5,152.9 247.5,152.0 263.4,151.4 279.4,152.3 295.4,154.6 311.3,156.0 327.3,159.6 343.3,154.1 359.2,147.6" stroke="#3977a9" stroke-width="0.55"/>
<polyline points="231.5,152.9 247.5,152.6 263.4,151.5 279.4,152.8 295.4,154.0 311.3,154.4 327.3,158.9 343.3,158.2 359.2,149.7" stroke="#3a78ab" stroke-width="0.55"/>
<polyline points="231.5,152.9 247.5,152.5 263.4,152.0 279.4,155.6 295.4,158.7 311.3,157.4 327.3,160.4 343.3,153.1 359.2,155.7" stroke="#3a7aac" stroke-width="0.55"/>
<polyline points="231.5,152.9 247.5,153.4 263.4,152.8 279.4,151.8 295.4,157.9 311.3,158.9 327.3,161.0 343.3,162.0 359.2,160.3" stroke="#3b7bae" stroke-width="0.55"/>
<polyline points="231.5,152.9 247.5,152.3 263.4,152.2 279.4,157.3 295.4,155.9 311.3,153.2 327.3,153.1 343.3,156.3 359.2,152.6" stroke="#3c7cb0" stroke-width="0.55"/>
<polyline points="231.5,152.9 247.5,152.4 263.4,154.9 279.4,155.2 295.4,157.1 311.3,158.0 327.3,149.3 343.3,155.1 359.2,149.3" stroke="#3c7eb2" stroke-width="0.55"/>
<polyline points="231.5,152.9 247.5,152.0 263.4,153.8 279.4,154.9 295.4,152.3 311.3,158.5 327.3,152.6 343.3,160.0 359.2,157.4" stroke="#3d7fb4" stroke-width="0.55"/>
<polyline points="231.5,152.9 247.5,152.8 263.4,154.0 279.4,151.2 295.4,150.1 311.3,151.4 327.3,152.1 343.3,149.6 359.2,156.8" stroke="#3e80b6" stroke-width="0.55"/>
<polyline points="231.5,152.9 247.5,153.9 263.4,153.2 279.4,157.5 295.4,151.7 311.3,159.7 327.3,155.5 343.3,150.8 359.2,155.2" stroke="#3e82b7" stroke-width="0.55"/>
<polyline points="231.5,152.9 247.5,153.8 263.4,154.7 279.4,154.2 295.4,158.5 311.3,154.8 327.3,150.7 343.3,149.3 359.2,148.1" stroke="#3f83b9" stroke-width="0.55"/>
<polyline points="231.5,152.9 247.5,153.0 263.4,154.2 279.4,151.0 295.4,154.4 311.3,156.1 327.3,155.4 343.3,157.0 359.2,145.7" stroke="#4084bb" stroke-width="0.55"/>
<polyline points="231.5,152.9 247.5,152.3 263.4,153.3 279.4,156.9 295.4,159.6 311.3,155.4 327.3,153.9 343.3,158.9 359.2,155.0" stroke="#4086bd" stroke-width="0.55"/>
<polyline points="231.5,152.9 247.5,153.4 263.4,153.7 279.4,155.8 295.4,159.3 311.3,158.1 327.3,152.7 343.3,159.9 359.2,159.9" stroke="#4187bf" stroke-width="0.55"/>
<polyline points="231.5,152.9 247.5,152.1 263.4,152.5 279.4,152.6 295.4,152.1 311.3,154.9 327.3,158.2 343.3,160.8 359.2,158.9" stroke="#4288c0" stroke-width="0.55"/>
<polyline points="231.5,152.9 247.5,152.2 263.4,151.0 279.4,154.4 295.4,149.3 311.3,151.2 327.3,149.0 343.3,150.3 359.2,151.5" stroke="#428ac2" stroke-width="0.55"/>
<polyline points="231.5,152.9 247.5,153.9 263.4,155.1 279.4,154.3 295.4,151.6 311.3,155.7 327.3,153.6 343.3,154.7 359.2,149.1" stroke="#438bc4" stroke-width="0.55"/>
<polyline points="231.5,152.9 247.5,153.5 263.4,154.3 279.4,155.3 295.4,155.6 311.3,152.1 327.3,158.4 343.3,157.6 359.2,163.8" stroke="#448cc6" stroke-width="0.55"/>
<polyline points="231.5,152.9 247.5,152.8 263.4,154.6 279.4,153.8 295.4,156.5 311.3,155.1 327.3,154.0 343.3,148.2 359.2,154.7" stroke="#448ec8" stroke-width="0.55"/>
<polyline points="231.5,152.9 247.5,152.2 263.4,154.4 279.4,150.3 295.4,152.4 311.3,160.4 327.3,160.2 343.3,154.2 359.2,159.0" stroke="#458fca" stroke-width="0.55"/>
<polyline points="231.5,152.9 247.5,151.9 263.4,151.9 279.4,153.7 295.4,159.0 311.3,157.0 327.3,150.4 343.3,151.6 359.2,163.6" stroke="#4691cb" stroke-width="0.55"/>
<polyline points="231.5,152.9 247.5,154.1 263.4,155.2 279.4,153.5 295.4,157.2 311.3,156.3 327.3,157.8 343.3,156.9 359.2,152.4" stroke="#4692cd" stroke-width="0.55"/>
<polyline points="231.5,152.9 247.5,153.4 263.4,153.5 279.4,154.1 295.4,153.8 311.3,154.3 327.3,153.8 343.3,149.4 359.2,161.6" stroke="#4793cf" stroke-width="0.55"/>
<polyline points="231.5,152.9 247.5,153.1 263.4,151.2 279.4,156.3 295.4,158.0 311.3,159.3 327.3,155.8 343.3,159.3 359.2,155.3" stroke="#4895d1" stroke-width="0.55"/>
<polyline points="231.5,152.9 247.5,153.9 263.4,155.4 279.4,156.4 295.4,151.8 311.3,155.2 327.3,156.4 343.3,151.0 359.2,149.5" stroke="#4896d3" stroke-width="0.55"/>
<polyline points="231.5,152.9 247.5,153.8 263.4,153.4 279.4,155.3 295.4,150.9 311.3,149.4 327.3,150.1 343.3,157.5 359.2,160.5" stroke="#4997d4" stroke-width="0.55"/>
<polyline points="231.5,152.9 247.5,154.1 263.4,152.1 279.4,150.9 295.4,158.9 311.3,159.1 327.3,155.9 343.3,157.9 359.2,154.3" stroke="#4a99d6" stroke-width="0.55"/>
<polyline points="231.5,152.9 247.5,153.3 263.4,154.7 279.4,154.7 295.4,153.4 311.3,150.2 327.3,151.6 343.3,153.7 359.2,150.4" stroke="#4a9ad8" stroke-width="0.55"/>
<polyline points="231.5,152.9 247.5,152.1 263.4,150.9 279.4,156.0 295.4,154.8 311.3,152.6 327.3,157.7 343.3,157.1 359.2,159.2" stroke="#4b9bda" stroke-width="0.55"/>
<polyline points="231.5,152.9 247.5,153.3 263.4,151.0 279.4,153.8 295.4,155.0 311.3,153.8 327.3,150.5 343.3,156.4 359.2,157.1" stroke="#4c9ddc" stroke-width="0.55"/>
<polyline points="231.5,152.9 247.5,152.4 263.4,151.3 279.4,154.2 295.4,156.4 311.3,154.1 327.3,159.2 343.3,156.1 359.2,160.8" stroke="#4d9ede" stroke-width="0.55"/>
<polyline points="231.5,152.9 247.5,153.3 263.4,154.1 279.4,152.1 295.4,157.8 311.3,153.5 327.3,157.9 343.3,151.2 359.2,145.9" stroke="#4d9fdf" stroke-width="0.55"/>
<polyline points="231.5,152.9 247.5,152.1 263.4,155.2 279.4,150.7 295.4,149.5 311.3,156.5 327.3,158.7 343.3,152.9 359.2,162.6" stroke="#4ea1e1" stroke-width="0.55"/>
<polyline points="231.5,152.9 247.5,152.8 263.4,153.0 279.4,154.6 295.4,157.7 311.3,155.3 327.3,157.5 343.3,150.5 359.2,153.9" stroke="#4fa2e3" stroke-width="0.55"/>
<polyline points="231.5,152.9 247.5,152.9 263.4,154.4 279.4,152.2 295.4,158.1 311.3,152.0 327.3,148.5 343.3,148.4 359.2,152.2" stroke="#4fa3e5" stroke-width="0.55"/>
<polyline points="231.5,152.9 247.5,153.8 263.4,151.7 279.4,151.3 295.4,155.8 311.3,155.8 327.3,150.8 343.3,149.1 359.2,156.4" stroke="#50a5e7" stroke-width="0.55"/>
<polyline points="231.5,152.9 247.5,153.1 263.4,151.6 279.4,150.6 295.4,151.0 311.3,150.8 327.3,155.7 343.3,156.2 359.2,156.6" stroke="#51a6e8" stroke-width="0.55"/>
<polyline points="231.5,152.9 247.5,151.9 263.4,153.5 279.4,153.1 295.4,155.5 311.3,149.2 327.3,149.5 343.3,155.8 359.2,151.1" stroke="#51a8ea" stroke-width="0.55"/>
<polyline points="231.5,152.9 247.5,154.0 263.4,155.4 279.4,157.6 295.4,158.4 311.3,158.4 327.3,152.4 343.3,160.9 359.2,155.6" stroke="#52a9ec" stroke-width="0.55"/>
<polyline points="231.5,152.9 247.5,153.3 263.4,153.3 279.4,155.9 295.4,152.9 311.3,152.9 327.3,154.1 343.3,155.2 359.2,151.3" stroke="#53aaee" stroke-width="0.55"/>
<polyline points="231.5,152.9 247.5,154.2 263.4,154.5 279.4,154.0 295.4,150.2 311.3,150.4 327.3,157.2 343.3,156.0 359.2,164.0" stroke="#53acf0" stroke-width="0.55"/>
<polyline points="231.5,152.9 247.5,152.7 263.4,153.7 279.4,156.7 295.4,153.6 311.3,158.7 327.3,154.9 343.3,155.4 359.2,154.1" stroke="#54adf2" stroke-width="0.55"/>
<polyline points="231.5,152.9 247.5,154.2 263.4,154.1 279.4,150.5 295.4,148.7 311.3,154.0 327.3,156.7 343.3,157.8 359.2,159.4" stroke="#55aef3" stroke-width="0.55"/>
<polyline points="231.5,152.9 247.5,153.9 263.4,154.7 279.4,153.6 295.4,153.2 311.3,158.2 327.3,159.9 343.3,155.3 359.2,159.6" stroke="#55b0f5" stroke-width="0.55"/>
<polyline points="231.5,152.9 247.5,152.3 263.4,151.8 279.4,153.0 295.4,148.8 311.3,154.5 327.3,156.5 343.3,160.2 359.2,162.2" stroke="#56b1f7" stroke-width="0.55"/>
<polyline points="231.5,152.9 359.2,155.9" stroke="#990000" stroke-width="1.8"/>
<polyline points="231.5,245.5 311.3,245.3 359.2,244.3" stroke="#1d3f5f" stroke-width="1.2"/>
<polyline points="231.5,245.2 359.2,244.5" stroke="#990000" stroke-width="1.8"/>
<text x="200.00" y="155.00" font-size="9.0" fill="#000" stroke="#000" stroke-width="0.18" text-anchor="start" font-weight="normal" transform="rotate(-90 200.00 155.00)">EUR/kW</text>
<line x1="231.50" y1="248.60" x2="231.50" y2="251.90" stroke="#333333" stroke-width="0.6"/>
<text x="231.50" y="258.20" font-size="6.6" fill="#303030" stroke="#303030" stroke-width="0.18" text-anchor="middle" font-weight="normal">2013</text>
<line x1="263.43" y1="248.60" x2="263.43" y2="251.90" stroke="#333333" stroke-width="0.6"/>
<text x="263.43" y="258.20" font-size="6.6" fill="#303030" stroke="#303030" stroke-width="0.18" text-anchor="middle" font-weight="normal">2014</text>
<line x1="295.36" y1="248.60" x2="295.36" y2="251.90" stroke="#333333" stroke-width="0.6"/>
<text x="295.36" y="258.20" font-size="6.6" fill="#303030" stroke="#303030" stroke-width="0.18" text-anchor="middle" font-weight="normal">2015</text>
<line x1="327.29" y1="248.60" x2="327.29" y2="251.90" stroke="#333333" stroke-width="0.6"/>
<text x="327.29" y="258.20" font-size="6.6" fill="#303030" stroke="#303030" stroke-width="0.18" text-anchor="middle" font-weight="normal">2016</text>
<line x1="359.22" y1="248.60" x2="359.22" y2="251.90" stroke="#333333" stroke-width="0.6"/>
<text x="359.22" y="258.20" font-size="6.6" fill="#303030" stroke="#303030" stroke-width="0.18" text-anchor="middle" font-weight="normal">2017</text>
<text x="435.70" y="26.50" font-size="9.8" fill="#000" stroke="#000" stroke-width="0.18" text-anchor="start" font-weight="normal">Energy price</text>
<rect x="413.80" y="31.90" width="96.30" height="107.30" fill="#E5E5E5"/>
<line x1="413.80" y1="133.25" x2="510.10" y2="133.25" stroke="#F3F3F3" stroke-width="0.5"/>
<line x1="413.80" y1="98.35" x2="510.10" y2="98.35" stroke="#F3F3F3" stroke-width="0.5"/>
<line x1="413.80" y1="63.45" x2="510.10" y2="63.45" stroke="#F3F3F3" stroke-width="0.5"/>
<line x1="413.80" y1="115.80" x2="510.10" y2="115.80" stroke="#FFFFFF" stroke-width="1.0"/>
<line x1="413.80" y1="80.90" x2="510.10" y2="80.90" stroke="#FFFFFF" stroke-width="1.0"/>
<line x1="413.80" y1="46.00" x2="510.10" y2="46.00" stroke="#FFFFFF" stroke-width="1.0"/>
<line x1="415.70" y1="31.90" x2="415.70" y2="139.20" stroke="#FFFFFF" stroke-width="1.0"/>
<line x1="440.07" y1="31.90" x2="440.07" y2="139.20" stroke="#FFFFFF" stroke-width="1.0"/>
<line x1="464.44" y1="31.90" x2="464.44" y2="139.20" stroke="#FFFFFF" stroke-width="1.0"/>
<line x1="488.81" y1="31.90" x2="488.81" y2="139.20" stroke="#FFFFFF" stroke-width="1.0"/>
<rect x="510.10" y="31.90" width="10.20" height="107.30" fill="#CCCCCC"/>
<text x="512.72" y="86.35" font-size="6.9" fill="#1A1A1A" stroke="#1A1A1A" stroke-width="0.1" text-anchor="middle" font-weight="normal" transform="rotate(90 512.72 86.35)">CHP</text>
<line x1="410.90" y1="115.80" x2="413.80" y2="115.80" stroke="#333333" stroke-width="0.6"/>
<text x="408.60" y="118.78" font-size="6.6" fill="#303030" stroke="#303030" stroke-width="0.18" text-anchor="end" font-weight="normal">0.1</text>
<line x1="410.90" y1="80.90" x2="413.80" y2="80.90" stroke="#333333" stroke-width="0.6"/>
<text x="408.60" y="83.88" font-size="6.6" fill="#303030" stroke="#303030" stroke-width="0.18" text-anchor="end" font-weight="normal">0.2</text>
<line x1="410.90" y1="46.00" x2="413.80" y2="46.00" stroke="#333333" stroke-width="0.6"/>
<text x="408.60" y="48.98" font-size="6.6" fill="#303030" stroke="#303030" stroke-width="0.18" text-anchor="end" font-weight="normal">0.3</text>
<rect x="413.80" y="141.20" width="96.30" height="107.30" fill="#E5E5E5"/>
<line x1="413.80" y1="242.55" x2="510.10" y2="242.55" stroke="#F3F3F3" stroke-width="0.5"/>
<line x1="413.80" y1="207.65" x2="510.10" y2="207.65" stroke="#F3F3F3" stroke-width="0.5"/>
<line x1="413.80" y1="172.75" x2="510.10" y2="172.75" stroke="#F3F3F3" stroke-width="0.5"/>
<line x1="413.80" y1="225.10" x2="510.10" y2="225.10" stroke="#FFFFFF" stroke-width="1.0"/>
<line x1="413.80" y1="190.20" x2="510.10" y2="190.20" stroke="#FFFFFF" stroke-width="1.0"/>
<line x1="413.80" y1="155.30" x2="510.10" y2="155.30" stroke="#FFFFFF" stroke-width="1.0"/>
<line x1="415.70" y1="141.20" x2="415.70" y2="248.50" stroke="#FFFFFF" stroke-width="1.0"/>
<line x1="440.07" y1="141.20" x2="440.07" y2="248.50" stroke="#FFFFFF" stroke-width="1.0"/>
<line x1="464.44" y1="141.20" x2="464.44" y2="248.50" stroke="#FFFFFF" stroke-width="1.0"/>
<line x1="488.81" y1="141.20" x2="488.81" y2="248.50" stroke="#FFFFFF" stroke-width="1.0"/>
<rect x="510.10" y="141.20" width="10.20" height="107.30" fill="#CCCCCC"/>
<text x="512.72" y="195.65" font-size="6.9" fill="#1A1A1A" stroke="#1A1A1A" stroke-width="0.1" text-anchor="middle" font-weight="normal" transform="rotate(90 512.72 195.65)">RTE</text>
<line x1="410.90" y1="225.10" x2="413.80" y2="225.10" stroke="#333333" stroke-width="0.6"/>
<text x="408.60" y="228.08" font-size="6.6" fill="#303030" stroke="#303030" stroke-width="0.18" text-anchor="end" font-weight="normal">0.1</text>
<line x1="410.90" y1="190.20" x2="413.80" y2="190.20" stroke="#333333" stroke-width="0.6"/>
<text x="408.60" y="193.18" font-size="6.6" fill="#303030" stroke="#303030" stroke-width="0.18" text-anchor="end" font-weight="normal">0.2</text>
<line x1="410.90" y1="155.30" x2="413.80" y2="155.30" stroke="#333333" stroke-width="0.6"/>
<text x="408.60" y="158.28" font-size="6.6" fill="#303030" stroke="#303030" stroke-width="0.18" text-anchor="end" font-weight="normal">0.3</text>
<line x1="415.70" y1="248.50" x2="415.70" y2="251.80" stroke="#333333" stroke-width="0.6"/>
<text x="415.70" y="258.20" font-size="6.6" fill="#303030" stroke="#303030" stroke-width="0.18" text-anchor="middle" font-weight="normal">2013</text>
<line x1="440.07" y1="248.50" x2="440.07" y2="251.80" stroke="#333333" stroke-width="0.6"/>
<text x="440.07" y="258.20" font-size="6.6" fill="#303030" stroke="#303030" stroke-width="0.18" text-anchor="middle" font-weight="normal">2014</text>
<line x1="464.44" y1="248.50" x2="464.44" y2="251.80" stroke="#333333" stroke-width="0.6"/>
<text x="464.44" y="258.20" font-size="6.6" fill="#303030" stroke="#303030" stroke-width="0.18" text-anchor="middle" font-weight="normal">2015</text>
<line x1="488.81" y1="248.50" x2="488.81" y2="251.80" stroke="#333333" stroke-width="0.6"/>
<text x="488.81" y="258.20" font-size="6.6" fill="#303030" stroke="#303030" stroke-width="0.18" text-anchor="middle" font-weight="normal">2016</text>
<text x="393.00" y="157.50" font-size="9.0" fill="#000" stroke="#000" stroke-width="0.18" text-anchor="start" font-weight="normal" transform="rotate(-90 393.00 157.50)">EUR/kWh</text>
<polyline points="415.7,131.0 432.8,131.0 435.3,129.8 451.2,129.8 453.8,128.0 470.6,128.0 473.2,126.7 490.2,126.7 492.8,124.3 508.0,124.3" stroke="#1c3d5c" stroke-width="0.9"/>
<polyline points="415.7,133.4 432.8,133.4 435.3,134.3 451.2,134.3 453.8,134.6 470.6,134.6 473.2,134.6 490.2,134.6 492.8,135.2 508.0,135.2" stroke="#1c3d5c" stroke-width="0.9"/>
<polyline points="415.7,131.0 432.8,131.0 435.3,129.8 451.2,129.8 453.8,128.0 470.6,128.0 473.2,126.7 490.2,126.7 492.8,124.3 508.0,124.3" stroke="#132b43" stroke-width="0.6"/>
<polyline points="415.7,133.3 432.8,133.3 435.3,134.3 451.2,134.3 453.8,134.5 470.6,134.5 473.2,133.8 490.2,133.8 492.8,134.6 508.0,134.6" stroke="#204667" stroke-width="0.6"/>
<polyline points="415.7,133.1 432.8,133.1 435.3,133.8 451.2,133.8 453.8,134.6 470.6,134.6 473.2,134.3 490.2,134.3 492.8,134.9 508.0,134.9" stroke="#244d71" stroke-width="0.6"/>
<polyline points="415.7,132.8 432.8,132.8 435.3,134.1 451.2,134.1 453.8,134.1 470.6,134.1 473.2,134.6 490.2,134.6 492.8,134.7 508.0,134.7" stroke="#275278" stroke-width="0.6"/>
<polyline points="415.7,131.3 432.8,131.3 435.3,130.1 451.2,130.1 453.8,128.2 470.6,128.2 473.2,127.1 490.2,127.1 492.8,124.8 508.0,124.8" stroke="#29577e" stroke-width="0.6"/>
<polyline points="415.7,131.6 432.8,131.6 435.3,129.9 451.2,129.9 453.8,128.3 470.6,128.3 473.2,126.9 490.2,126.9 492.8,125.4 508.0,125.4" stroke="#2b5a82" stroke-width="0.6"/>
<polyline points="415.7,131.2 432.8,131.2 435.3,130.5 451.2,130.5 453.8,128.4 470.6,128.4 473.2,128.4 490.2,128.4 492.8,124.4 508.0,124.4" stroke="#2c5d86" stroke-width="0.6"/>
<polyline points="415.7,133.2 432.8,133.2 435.3,134.0 451.2,134.0 453.8,134.4 470.6,134.4 473.2,132.9 490.2,132.9 492.8,134.0 508.0,134.0" stroke="#2e608a" stroke-width="0.6"/>
<polyline points="415.7,132.8 432.8,132.8 435.3,133.7 451.2,133.7 453.8,134.0 470.6,134.0 473.2,134.5 490.2,134.5 492.8,134.3 508.0,134.3" stroke="#2f638e" stroke-width="0.6"/>
<polyline points="415.7,131.0 432.8,131.0 435.3,129.9 451.2,129.9 453.8,129.7 470.6,129.7 473.2,127.0 490.2,127.0 492.8,126.8 508.0,126.8" stroke="#306591" stroke-width="0.6"/>
<polyline points="415.7,131.0 432.8,131.0 435.3,129.8 451.2,129.8 453.8,128.5 470.6,128.5 473.2,126.8 490.2,126.8 492.8,130.5 508.0,130.5" stroke="#316794" stroke-width="0.6"/>
<polyline points="415.7,132.6 432.8,132.6 435.3,133.3 451.2,133.3 453.8,134.2 470.6,134.2 473.2,134.3 490.2,134.3 492.8,135.1 508.0,135.1" stroke="#326996" stroke-width="0.6"/>
<polyline points="415.7,132.9 432.8,132.9 435.3,133.7 451.2,133.7 453.8,133.9 470.6,133.9 473.2,134.4 490.2,134.4 492.8,133.6 508.0,133.6" stroke="#336b99" stroke-width="0.6"/>
<polyline points="415.7,131.2 432.8,131.2 435.3,130.0 451.2,130.0 453.8,128.1 470.6,128.1 473.2,129.7 490.2,129.7 492.8,125.1 508.0,125.1" stroke="#346d9b" stroke-width="0.6"/>
<polyline points="415.7,131.5 432.8,131.5 435.3,130.2 451.2,130.2 453.8,128.7 470.6,128.7 473.2,128.2 490.2,128.2 492.8,124.7 508.0,124.7" stroke="#356f9e" stroke-width="0.6"/>
<polyline points="415.7,131.7 432.8,131.7 435.3,130.4 451.2,130.4 453.8,128.1 470.6,128.1 473.2,127.5 490.2,127.5 492.8,125.7 508.0,125.7" stroke="#3670a0" stroke-width="0.6"/>
<polyline points="415.7,133.3 432.8,133.3 435.3,133.1 451.2,133.1 453.8,134.3 470.6,134.3 473.2,132.6 490.2,132.6 492.8,133.8 508.0,133.8" stroke="#3672a2" stroke-width="0.6"/>
<polyline points="415.7,131.3 432.8,131.3 435.3,132.4 451.2,132.4 453.8,128.8 470.6,128.8 473.2,128.0 490.2,128.0 492.8,124.6 508.0,124.6" stroke="#3773a4" stroke-width="0.6"/>
<polyline points="415.7,131.2 432.8,131.2 435.3,130.0 451.2,130.0 453.8,129.0 470.6,129.0 473.2,129.5 490.2,129.5 492.8,125.0 508.0,125.0" stroke="#3875a6" stroke-width="0.6"/>
<polyline points="415.7,132.6 432.8,132.6 435.3,133.1 451.2,133.1 453.8,132.9 470.6,132.9 473.2,133.9 490.2,133.9 492.8,135.2 508.0,135.2" stroke="#3976a8" stroke-width="0.6"/>
<polyline points="415.7,133.1 432.8,133.1 435.3,134.2 451.2,134.2 453.8,133.1 470.6,133.1 473.2,127.7 490.2,127.7 492.8,129.0 508.0,129.0" stroke="#3978aa" stroke-width="0.6"/>
<polyline points="415.7,133.2 432.8,133.2 435.3,133.6 451.2,133.6 453.8,133.2 470.6,133.2 473.2,132.8 490.2,132.8 492.8,126.3 508.0,126.3" stroke="#3a79ac" stroke-width="0.6"/>
<polyline points="415.7,132.8 432.8,132.8 435.3,133.9 451.2,133.9 453.8,134.4 470.6,134.4 473.2,133.4 490.2,133.4 492.8,129.3 508.0,129.3" stroke="#3b7aad" stroke-width="0.6"/>
<polyline points="415.7,133.3 432.8,133.3 435.3,134.1 451.2,134.1 453.8,133.6 470.6,133.6 473.2,132.3 490.2,132.3 492.8,131.4 508.0,131.4" stroke="#3b7baf" stroke-width="0.6"/>
<polyline points="415.7,132.6 432.8,132.6 435.3,133.4 451.2,133.4 453.8,133.7 470.6,133.7 473.2,134.0 490.2,134.0 492.8,133.9 508.0,133.9" stroke="#3c7db1" stroke-width="0.6"/>
<polyline points="415.7,133.4 432.8,133.4 435.3,133.6 451.2,133.6 453.8,133.3 470.6,133.3 473.2,132.2 490.2,132.2 492.8,131.6 508.0,131.6" stroke="#3c7eb2" stroke-width="0.6"/>
<polyline points="415.7,133.2 432.8,133.2 435.3,134.0 451.2,134.0 453.8,133.4 470.6,133.4 473.2,129.9 490.2,129.9 492.8,133.2 508.0,133.2" stroke="#3d7fb4" stroke-width="0.6"/>
<polyline points="415.7,131.5 432.8,131.5 435.3,132.9 451.2,132.9 453.8,133.1 470.6,133.1 473.2,134.1 490.2,134.1 492.8,133.4 508.0,133.4" stroke="#3e80b5" stroke-width="0.6"/>
<polyline points="415.7,133.1 432.8,133.1 435.3,132.0 451.2,132.0 453.8,133.8 470.6,133.8 473.2,133.6 490.2,133.6 492.8,134.2 508.0,134.2" stroke="#3e81b7" stroke-width="0.6"/>
<polyline points="415.7,131.4 432.8,131.4 435.3,130.4 451.2,130.4 453.8,131.6 470.6,131.6 473.2,127.2 490.2,127.2 492.8,126.1 508.0,126.1" stroke="#3f82b8" stroke-width="0.6"/>
<polyline points="415.7,133.4 432.8,133.4 435.3,133.2 451.2,133.2 453.8,131.4 470.6,131.4 473.2,128.7 490.2,128.7 492.8,126.7 508.0,126.7" stroke="#3f83ba" stroke-width="0.6"/>
<polyline points="415.7,133.0 432.8,133.0 435.3,133.5 451.2,133.5 453.8,132.7 470.6,132.7 473.2,131.9 490.2,131.9 492.8,134.4 508.0,134.4" stroke="#4084bb" stroke-width="0.6"/>
<polyline points="415.7,131.6 432.8,131.6 435.3,130.5 451.2,130.5 453.8,129.1 470.6,129.1 473.2,129.2 490.2,129.2 492.8,125.2 508.0,125.2" stroke="#4085bc" stroke-width="0.6"/>
<polyline points="415.7,131.1 432.8,131.1 435.3,130.2 451.2,130.2 453.8,130.3 470.6,130.3 473.2,130.0 490.2,130.0 492.8,132.7 508.0,132.7" stroke="#4186be" stroke-width="0.6"/>
<polyline points="415.7,131.3 432.8,131.3 435.3,130.7 451.2,130.7 453.8,128.6 470.6,128.6 473.2,128.3 490.2,128.3 492.8,131.2 508.0,131.2" stroke="#4187bf" stroke-width="0.6"/>
<polyline points="415.7,132.3 432.8,132.3 435.3,132.7 451.2,132.7 453.8,134.1 470.6,134.1 473.2,133.2 490.2,133.2 492.8,133.7 508.0,133.7" stroke="#4288c0" stroke-width="0.6"/>
<polyline points="415.7,132.7 432.8,132.7 435.3,133.3 451.2,133.3 453.8,133.6 470.6,133.6 473.2,133.1 490.2,133.1 492.8,133.3 508.0,133.3" stroke="#4289c1" stroke-width="0.6"/>
<polyline points="415.7,132.2 432.8,132.2 435.3,132.5 451.2,132.5 453.8,129.4 470.6,129.4 473.2,127.1 490.2,127.1 492.8,126.4 508.0,126.4" stroke="#428ac3" stroke-width="0.6"/>
<polyline points="415.7,133.1 432.8,133.1 435.3,133.0 451.2,133.0 453.8,133.0 470.6,133.0 473.2,133.7 490.2,133.7 492.8,131.9 508.0,131.9" stroke="#438bc4" stroke-width="0.6"/>
<polyline points="415.7,132.8 432.8,132.8 435.3,130.6 451.2,130.6 453.8,132.1 470.6,132.1 473.2,131.2 490.2,131.2 492.8,134.8 508.0,134.8" stroke="#438cc5" stroke-width="0.6"/>
<polyline points="415.7,131.4 432.8,131.4 435.3,131.3 451.2,131.3 453.8,129.5 470.6,129.5 473.2,127.3 490.2,127.3 492.8,128.3 508.0,128.3" stroke="#448dc6" stroke-width="0.6"/>
<polyline points="415.7,133.0 432.8,133.0 435.3,134.2 451.2,134.2 453.8,132.1 470.6,132.1 473.2,129.1 490.2,129.1 492.8,130.0 508.0,130.0" stroke="#448dc7" stroke-width="0.6"/>
<polyline points="415.7,131.1 432.8,131.1 435.3,131.6 451.2,131.6 453.8,133.5 470.6,133.5 473.2,131.3 490.2,131.3 492.8,127.0 508.0,127.0" stroke="#458ec8" stroke-width="0.6"/>
<polyline points="415.7,131.4 432.8,131.4 435.3,131.3 451.2,131.3 453.8,132.4 470.6,132.4 473.2,133.3 490.2,133.3 492.8,134.1 508.0,134.1" stroke="#458fc9" stroke-width="0.6"/>
<polyline points="415.7,131.8 432.8,131.8 435.3,131.9 451.2,131.9 453.8,129.3 470.6,129.3 473.2,127.4 490.2,127.4 492.8,126.0 508.0,126.0" stroke="#4590cb" stroke-width="0.6"/>
<polyline points="415.7,131.7 432.8,131.7 435.3,130.9 451.2,130.9 453.8,128.4 470.6,128.4 473.2,129.3 490.2,129.3 492.8,131.5 508.0,131.5" stroke="#4691cc" stroke-width="0.6"/>
<polyline points="415.7,131.9 432.8,131.9 435.3,131.2 451.2,131.2 453.8,129.5 470.6,129.5 473.2,131.3 490.2,131.3 492.8,135.0 508.0,135.0" stroke="#4691cd" stroke-width="0.6"/>
<polyline points="415.7,132.7 432.8,132.7 435.3,132.5 451.2,132.5 453.8,132.6 470.6,132.6 473.2,133.7 490.2,133.7 492.8,132.8 508.0,132.8" stroke="#4792ce" stroke-width="0.6"/>
<polyline points="415.7,133.3 432.8,133.3 435.3,132.3 451.2,132.3 453.8,133.3 470.6,133.3 473.2,130.3 490.2,130.3 492.8,130.7 508.0,130.7" stroke="#4793cf" stroke-width="0.6"/>
<polyline points="415.7,131.7 432.8,131.7 435.3,130.3 451.2,130.3 453.8,130.2 470.6,130.2 473.2,129.4 490.2,129.4 492.8,126.5 508.0,126.5" stroke="#4794d0" stroke-width="0.6"/>
<polyline points="415.7,131.8 432.8,131.8 435.3,130.3 451.2,130.3 453.8,129.2 470.6,129.2 473.2,131.8 490.2,131.8 492.8,132.2 508.0,132.2" stroke="#4895d1" stroke-width="0.6"/>
<polyline points="415.7,132.4 432.8,132.4 435.3,130.9 451.2,130.9 453.8,130.2 470.6,130.2 473.2,128.5 490.2,128.5 492.8,125.6 508.0,125.6" stroke="#4895d2" stroke-width="0.6"/>
<polyline points="415.7,131.2 432.8,131.2 435.3,131.1 451.2,131.1 453.8,130.4 470.6,130.4 473.2,127.6 490.2,127.6 492.8,130.7 508.0,130.7" stroke="#4896d3" stroke-width="0.6"/>
<polyline points="415.7,131.9 432.8,131.9 435.3,130.8 451.2,130.8 453.8,128.6 470.6,128.6 473.2,130.0 490.2,130.0 492.8,127.4 508.0,127.4" stroke="#4997d4" stroke-width="0.6"/>
<polyline points="415.7,131.7 432.8,131.7 435.3,131.6 451.2,131.6 453.8,132.6 470.6,132.6 473.2,134.2 490.2,134.2 492.8,131.8 508.0,131.8" stroke="#4997d5" stroke-width="0.6"/>
<polyline points="415.7,133.0 432.8,133.0 435.3,131.6 451.2,131.6 453.8,132.4 470.6,132.4 473.2,127.9 490.2,127.9 492.8,127.2 508.0,127.2" stroke="#4a98d6" stroke-width="0.6"/>
<polyline points="415.7,132.9 432.8,132.9 435.3,132.8 451.2,132.8 453.8,130.4 470.6,130.4 473.2,127.8 490.2,127.8 492.8,128.6 508.0,128.6" stroke="#4a99d6" stroke-width="0.6"/>
<polyline points="415.7,132.5 432.8,132.5 435.3,133.8 451.2,133.8 453.8,129.9 470.6,129.9 473.2,128.6 490.2,128.6 492.8,130.4 508.0,130.4" stroke="#4a99d7" stroke-width="0.6"/>
<polyline points="415.7,131.8 432.8,131.8 435.3,130.8 451.2,130.8 453.8,128.9 470.6,128.9 473.2,128.9 490.2,128.9 492.8,128.9 508.0,128.9" stroke="#4b9ad8" stroke-width="0.6"/>
<polyline points="415.7,132.2 432.8,132.2 435.3,131.1 451.2,131.1 453.8,129.7 470.6,129.7 473.2,127.8 490.2,127.8 492.8,127.5 508.0,127.5" stroke="#4b9bd9" stroke-width="0.6"/>
<polyline points="415.7,131.1 432.8,131.1 435.3,130.1 451.2,130.1 453.8,131.1 470.6,131.1 473.2,130.6 490.2,130.6 492.8,130.3 508.0,130.3" stroke="#4b9bda" stroke-width="0.6"/>
<polyline points="415.7,131.1 432.8,131.1 435.3,131.0 451.2,131.0 453.8,132.0 470.6,132.0 473.2,130.8 490.2,130.8 492.8,128.7 508.0,128.7" stroke="#4c9cdb" stroke-width="0.6"/>
<polyline points="415.7,132.5 432.8,132.5 435.3,132.2 451.2,132.2 453.8,131.0 470.6,131.0 473.2,128.8 490.2,128.8 492.8,125.5 508.0,125.5" stroke="#4c9ddc" stroke-width="0.6"/>
<polyline points="415.7,132.0 432.8,132.0 435.3,131.0 451.2,131.0 453.8,128.8 470.6,128.8 473.2,132.3 490.2,132.3 492.8,132.0 508.0,132.0" stroke="#4c9ddd" stroke-width="0.6"/>
<polyline points="415.7,131.8 432.8,131.8 435.3,130.6 451.2,130.6 453.8,130.1 470.6,130.1 473.2,133.2 490.2,133.2 492.8,132.1 508.0,132.1" stroke="#4d9ede" stroke-width="0.6"/>
<polyline points="415.7,131.9 432.8,131.9 435.3,130.1 451.2,130.1 453.8,130.7 470.6,130.7 473.2,131.1 490.2,131.1 492.8,128.1 508.0,128.1" stroke="#4d9fde" stroke-width="0.6"/>
<polyline points="415.7,132.6 432.8,132.6 435.3,132.6 451.2,132.6 453.8,131.9 470.6,131.9 473.2,133.0 490.2,133.0 492.8,133.0 508.0,133.0" stroke="#4d9fdf" stroke-width="0.6"/>
<polyline points="415.7,132.0 432.8,132.0 435.3,132.1 451.2,132.1 453.8,131.7 470.6,131.7 473.2,128.1 490.2,128.1 492.8,125.9 508.0,125.9" stroke="#4da0e0" stroke-width="0.6"/>
<polyline points="415.7,132.3 432.8,132.3 435.3,131.1 451.2,131.1 453.8,129.3 470.6,129.3 473.2,130.2 490.2,130.2 492.8,133.5 508.0,133.5" stroke="#4ea0e1" stroke-width="0.6"/>
<polyline points="415.7,132.4 432.8,132.4 435.3,131.4 451.2,131.4 453.8,133.9 470.6,133.9 473.2,130.7 490.2,130.7 492.8,132.5 508.0,132.5" stroke="#4ea1e2" stroke-width="0.6"/>
<polyline points="415.7,132.1 432.8,132.1 435.3,133.4 451.2,133.4 453.8,131.3 470.6,131.3 473.2,132.1 490.2,132.1 492.8,126.9 508.0,126.9" stroke="#4ea2e2" stroke-width="0.6"/>
<polyline points="415.7,132.1 432.8,132.1 435.3,130.3 451.2,130.3 453.8,129.6 470.6,129.6 473.2,130.1 490.2,130.1 492.8,131.0 508.0,131.0" stroke="#4fa2e3" stroke-width="0.6"/>
<polyline points="415.7,132.2 432.8,132.2 435.3,133.2 451.2,133.2 453.8,132.8 470.6,132.8 473.2,131.7 490.2,131.7 492.8,132.3 508.0,132.3" stroke="#4fa3e4" stroke-width="0.6"/>
<polyline points="415.7,132.9 432.8,132.9 435.3,131.8 451.2,131.8 453.8,130.0 470.6,130.0 473.2,130.6 490.2,130.6 492.8,133.1 508.0,133.1" stroke="#4fa3e5" stroke-width="0.6"/>
<polyline points="415.7,132.5 432.8,132.5 435.3,131.5 451.2,131.5 453.8,132.2 470.6,132.2 473.2,133.5 490.2,133.5 492.8,130.2 508.0,130.2" stroke="#50a4e6" stroke-width="0.6"/>
<polyline points="415.7,131.3 432.8,131.3 435.3,132.3 451.2,132.3 453.8,129.9 470.6,129.9 473.2,131.0 490.2,131.0 492.8,129.5 508.0,129.5" stroke="#50a5e6" stroke-width="0.6"/>
<polyline points="415.7,132.1 432.8,132.1 435.3,132.8 451.2,132.8 453.8,132.8 470.6,132.8 473.2,132.7 490.2,132.7 492.8,127.9 508.0,127.9" stroke="#50a5e7" stroke-width="0.6"/>
<polyline points="415.7,131.5 432.8,131.5 435.3,130.9 451.2,130.9 453.8,131.5 470.6,131.5 473.2,132.7 490.2,132.7 492.8,130.3 508.0,130.3" stroke="#50a6e8" stroke-width="0.6"/>
<polyline points="415.7,132.3 432.8,132.3 435.3,130.7 451.2,130.7 453.8,131.1 470.6,131.1 473.2,128.4 490.2,128.4 492.8,128.5 508.0,128.5" stroke="#51a6e9" stroke-width="0.6"/>
<polyline points="415.7,132.9 432.8,132.9 435.3,131.4 451.2,131.4 453.8,130.6 470.6,130.6 473.2,131.0 490.2,131.0 492.8,132.4 508.0,132.4" stroke="#51a7e9" stroke-width="0.6"/>
<polyline points="415.7,131.7 432.8,131.7 435.3,132.1 451.2,132.1 453.8,132.3 470.6,132.3 473.2,131.4 490.2,131.4 492.8,132.9 508.0,132.9" stroke="#51a7ea" stroke-width="0.6"/>
<polyline points="415.7,132.5 432.8,132.5 435.3,132.7 451.2,132.7 453.8,130.5 470.6,130.5 473.2,129.0 490.2,129.0 492.8,127.8 508.0,127.8" stroke="#51a8eb" stroke-width="0.6"/>
<polyline points="415.7,131.5 432.8,131.5 435.3,131.2 451.2,131.2 453.8,130.1 470.6,130.1 473.2,131.5 490.2,131.5 492.8,129.4 508.0,129.4" stroke="#52a8ec" stroke-width="0.6"/>
<polyline points="415.7,132.4 432.8,132.4 435.3,130.5 451.2,130.5 453.8,130.9 470.6,130.9 473.2,129.7 490.2,129.7 492.8,130.6 508.0,130.6" stroke="#52a9ec" stroke-width="0.6"/>
<polyline points="415.7,131.9 432.8,131.9 435.3,130.7 451.2,130.7 453.8,132.5 470.6,132.5 473.2,131.6 490.2,131.6 492.8,131.3 508.0,131.3" stroke="#52aaed" stroke-width="0.6"/>
<polyline points="415.7,131.6 432.8,131.6 435.3,131.2 451.2,131.2 453.8,130.8 470.6,130.8 473.2,132.5 490.2,132.5 492.8,131.7 508.0,131.7" stroke="#53aaee" stroke-width="0.6"/>
<polyline points="415.7,131.4 432.8,131.4 435.3,131.8 451.2,131.8 453.8,130.7 470.6,130.7 473.2,131.6 490.2,131.6 492.8,129.2 508.0,129.2" stroke="#53abee" stroke-width="0.6"/>
<polyline points="415.7,132.1 432.8,132.1 435.3,131.8 451.2,131.8 453.8,129.8 470.6,129.8 473.2,129.3 490.2,129.3 492.8,127.3 508.0,127.3" stroke="#53abef" stroke-width="0.6"/>
<polyline points="415.7,132.1 432.8,132.1 435.3,131.4 451.2,131.4 453.8,129.0 470.6,129.0 473.2,130.7 490.2,130.7 492.8,129.8 508.0,129.8" stroke="#53acf0" stroke-width="0.6"/>
<polyline points="415.7,131.5 432.8,131.5 435.3,132.0 451.2,132.0 453.8,130.6 470.6,130.6 473.2,131.9 490.2,131.9 492.8,130.9 508.0,130.9" stroke="#54acf0" stroke-width="0.6"/>
<polyline points="415.7,131.9 432.8,131.9 435.3,131.5 451.2,131.5 453.8,131.6 470.6,131.6 473.2,128.9 490.2,128.9 492.8,128.0 508.0,128.0" stroke="#54adf1" stroke-width="0.6"/>
<polyline points="415.7,132.4 432.8,132.4 435.3,132.6 451.2,132.6 453.8,131.2 470.6,131.2 473.2,132.4 490.2,132.4 492.8,129.9 508.0,129.9" stroke="#54adf2" stroke-width="0.6"/>
<polyline points="415.7,132.7 432.8,132.7 435.3,131.7 451.2,131.7 453.8,131.2 470.6,131.2 473.2,132.0 490.2,132.0 492.8,131.1 508.0,131.1" stroke="#54aef2" stroke-width="0.6"/>
<polyline points="415.7,132.1 432.8,132.1 435.3,133.0 451.2,133.0 453.8,131.8 470.6,131.8 473.2,130.5 490.2,130.5 492.8,130.8 508.0,130.8" stroke="#55aef3" stroke-width="0.6"/>
<polyline points="415.7,131.6 432.8,131.6 435.3,131.7 451.2,131.7 453.8,131.9 470.6,131.9 473.2,130.3 490.2,130.3 492.8,130.1 508.0,130.1" stroke="#55aff4" stroke-width="0.6"/>
<polyline points="415.7,132.2 432.8,132.2 435.3,131.7 451.2,131.7 453.8,130.9 470.6,130.9 473.2,130.4 490.2,130.4 492.8,132.6 508.0,132.6" stroke="#55aff4" stroke-width="0.6"/>
<polyline points="415.7,132.0 432.8,132.0 435.3,131.9 451.2,131.9 453.8,131.0 470.6,131.0 473.2,130.8 490.2,130.8 492.8,127.7 508.0,127.7" stroke="#55b0f5" stroke-width="0.6"/>
<polyline points="415.7,132.3 432.8,132.3 435.3,132.2 451.2,132.2 453.8,131.8 470.6,131.8 473.2,129.6 490.2,129.6 492.8,129.7 508.0,129.7" stroke="#56b0f6" stroke-width="0.6"/>
<polyline points="415.7,132.0 432.8,132.0 435.3,132.4 451.2,132.4 453.8,131.4 470.6,131.4 473.2,130.9 490.2,130.9 492.8,128.4 508.0,128.4" stroke="#56b1f6" stroke-width="0.6"/>
<polyline points="415.7,132.0 432.8,132.0 435.3,131.5 451.2,131.5 453.8,131.3 470.6,131.3 473.2,129.8 490.2,129.8 492.8,129.1 508.0,129.1" stroke="#56b1f7" stroke-width="0.6"/>
<polyline points="415.7,132.1 432.8,132.1 435.3,131.7 451.2,131.7 453.8,131.2 470.6,131.2 473.2,130.7 490.2,130.7 492.8,130.3 508.0,130.3" stroke="#990000" stroke-width="1.7"/>
<polyline points="415.7,208.6 430.5,208.6 435.0,206.5 449.8,206.5 454.4,208.9 470.1,208.9 473.3,210.6 488.7,210.6 492.3,203.8 508.0,203.8" stroke="#132b43" stroke-width="0.8"/>
<polyline points="415.7,212.2 430.5,212.2 435.0,210.1 449.8,210.1 454.4,199.9 470.1,199.9 473.3,208.8 488.7,208.8 492.3,191.2 508.0,191.2" stroke="#17344e" stroke-width="0.8"/>
<polyline points="415.7,205.0 430.5,205.0 435.0,197.5 449.8,197.5 454.4,183.7 470.1,183.7 473.3,167.4 488.7,167.4 492.3,185.8 508.0,185.8" stroke="#193854" stroke-width="0.8"/>
<polyline points="415.7,208.6 430.5,208.6 435.0,210.1 449.8,210.1 454.4,201.7 470.1,201.7 473.3,203.4 488.7,203.4 492.3,196.6 508.0,196.6" stroke="#1b3b59" stroke-width="0.8"/>
<polyline points="415.7,205.0 430.5,205.0 435.0,199.3 449.8,199.3 454.4,198.1 470.1,198.1 473.3,207.0 488.7,207.0 492.3,171.4 508.0,171.4" stroke="#1d3f5d" stroke-width="0.8"/>
<polyline points="415.7,212.2 430.5,212.2 435.0,211.5 449.8,211.5 454.4,199.9 470.1,199.9 473.3,199.8 488.7,199.8 492.3,211.0 508.0,211.0" stroke="#1e4161" stroke-width="0.8"/>
<polyline points="415.7,205.0 430.5,205.0 435.0,201.1 449.8,201.1 454.4,178.3 470.1,178.3 473.3,176.4 488.7,176.4 492.3,205.6 508.0,205.6" stroke="#1f4464" stroke-width="0.8"/>
<polyline points="415.7,208.6 430.5,208.6 435.0,206.5 449.8,206.5 454.4,185.5 470.1,185.5 473.3,169.2 488.7,169.2 492.3,162.4 508.0,162.4" stroke="#214668" stroke-width="0.8"/>
<polyline points="415.7,212.2 430.5,212.2 435.0,204.7 449.8,204.7 454.4,208.9 470.1,208.9 473.3,199.8 488.7,199.8 492.3,176.8 508.0,176.8" stroke="#22496b" stroke-width="0.8"/>
<polyline points="415.7,208.6 430.5,208.6 435.0,204.7 449.8,204.7 454.4,198.1 470.1,198.1 473.3,203.4 488.7,203.4 492.3,178.6 508.0,178.6" stroke="#234b6e" stroke-width="0.8"/>
<polyline points="415.7,208.6 430.5,208.6 435.0,206.5 449.8,206.5 454.4,196.3 470.1,196.3 473.3,189.0 488.7,189.0 492.3,182.2 508.0,182.2" stroke="#244d70" stroke-width="0.8"/>
<polyline points="415.7,205.0 430.5,205.0 435.0,206.5 449.8,206.5 454.4,198.1 470.1,198.1 473.3,201.6 488.7,201.6 492.3,148.0 508.0,148.0" stroke="#254f73" stroke-width="0.8"/>
<polyline points="415.7,212.2 430.5,212.2 435.0,202.9 449.8,202.9 454.4,189.1 470.1,189.1 473.3,172.8 488.7,172.8 492.3,187.6 508.0,187.6" stroke="#265176" stroke-width="0.8"/>
<polyline points="415.7,203.2 430.5,203.2 435.0,202.9 449.8,202.9 454.4,180.1 470.1,180.1 473.3,189.0 488.7,189.0 492.3,182.2 508.0,182.2" stroke="#275378" stroke-width="0.8"/>
<polyline points="415.7,212.2 430.5,212.2 435.0,208.3 449.8,208.3 454.4,192.7 470.1,192.7 473.3,174.6 488.7,174.6 492.3,180.4 508.0,180.4" stroke="#28547b" stroke-width="0.8"/>
<polyline points="415.7,206.8 430.5,206.8 435.0,201.1 449.8,201.1 454.4,183.7 470.1,183.7 473.3,185.4 488.7,185.4 492.3,212.4 508.0,212.4" stroke="#29567d" stroke-width="0.8"/>
<polyline points="415.7,212.2 430.5,212.2 435.0,206.5 449.8,206.5 454.4,190.9 470.1,190.9 473.3,178.2 488.7,178.2 492.3,198.4 508.0,198.4" stroke="#29587f" stroke-width="0.8"/>
<polyline points="415.7,208.6 430.5,208.6 435.0,204.7 449.8,204.7 454.4,194.5 470.1,194.5 473.3,178.2 488.7,178.2 492.3,175.0 508.0,175.0" stroke="#2a5a82" stroke-width="0.8"/>
<polyline points="415.7,206.8 430.5,206.8 435.0,197.5 449.8,197.5 454.4,192.7 470.1,192.7 473.3,178.2 488.7,178.2 492.3,148.0 508.0,148.0" stroke="#2b5b84" stroke-width="0.8"/>
<polyline points="415.7,210.4 430.5,210.4 435.0,210.1 449.8,210.1 454.4,205.3 470.1,205.3 473.3,185.4 488.7,185.4 492.3,151.6 508.0,151.6" stroke="#2c5d86" stroke-width="0.8"/>
<polyline points="415.7,206.8 430.5,206.8 435.0,199.3 449.8,199.3 454.4,198.1 470.1,198.1 473.3,187.2 488.7,187.2 492.3,173.2 508.0,173.2" stroke="#2d5e88" stroke-width="0.8"/>
<polyline points="415.7,205.0 430.5,205.0 435.0,199.3 449.8,199.3 454.4,181.9 470.1,181.9 473.3,201.6 488.7,201.6 492.3,193.0 508.0,193.0" stroke="#2d608a" stroke-width="0.8"/>
<polyline points="415.7,208.6 430.5,208.6 435.0,208.3 449.8,208.3 454.4,210.7 470.1,210.7 473.3,201.6 488.7,201.6 492.3,160.6 508.0,160.6" stroke="#2e618c" stroke-width="0.8"/>
<polyline points="415.7,212.2 430.5,212.2 435.0,202.9 449.8,202.9 454.4,201.7 470.1,201.7 473.3,171.0 488.7,171.0 492.3,158.8 508.0,158.8" stroke="#2f638e" stroke-width="0.8"/>
<polyline points="415.7,206.8 430.5,206.8 435.0,195.7 449.8,195.7 454.4,180.1 470.1,180.1 473.3,185.4 488.7,185.4 492.3,167.8 508.0,167.8" stroke="#306490" stroke-width="0.8"/>
<polyline points="415.7,212.2 430.5,212.2 435.0,206.5 449.8,206.5 454.4,201.7 470.1,201.7 473.3,199.8 488.7,199.8 492.3,180.4 508.0,180.4" stroke="#306692" stroke-width="0.8"/>
<polyline points="415.7,208.6 430.5,208.6 435.0,202.9 449.8,202.9 454.4,196.3 470.1,196.3 473.3,174.6 488.7,174.6 492.3,184.0 508.0,184.0" stroke="#316794" stroke-width="0.8"/>
<polyline points="415.7,208.6 430.5,208.6 435.0,210.1 449.8,210.1 454.4,198.1 470.1,198.1 473.3,211.5 488.7,211.5 492.3,202.0 508.0,202.0" stroke="#326896" stroke-width="0.8"/>
<polyline points="415.7,212.2 430.5,212.2 435.0,206.5 449.8,206.5 454.4,187.3 470.1,187.3 473.3,171.0 488.7,171.0 492.3,196.6 508.0,196.6" stroke="#326a97" stroke-width="0.8"/>
<polyline points="415.7,213.9 430.5,213.9 435.0,204.7 449.8,204.7 454.4,210.7 470.1,210.7 473.3,210.6 488.7,210.6 492.3,189.4 508.0,189.4" stroke="#336b99" stroke-width="0.8"/>
<polyline points="415.7,213.9 430.5,213.9 435.0,206.5 449.8,206.5 454.4,189.1 470.1,189.1 473.3,189.0 488.7,189.0 492.3,182.2 508.0,182.2" stroke="#346c9b" stroke-width="0.8"/>
<polyline points="415.7,206.8 430.5,206.8 435.0,193.9 449.8,193.9 454.4,183.7 470.1,183.7 473.3,196.2 488.7,196.2 492.3,175.0 508.0,175.0" stroke="#346e9d" stroke-width="0.8"/>
<polyline points="415.7,205.0 430.5,205.0 435.0,193.9 449.8,193.9 454.4,198.1 470.1,198.1 473.3,208.8 488.7,208.8 492.3,173.2 508.0,173.2" stroke="#356f9e" stroke-width="0.8"/>
<polyline points="415.7,206.8 430.5,206.8 435.0,202.9 449.8,202.9 454.4,207.1 470.1,207.1 473.3,187.2 488.7,187.2 492.3,184.0 508.0,184.0" stroke="#3670a0" stroke-width="0.8"/>
<polyline points="415.7,213.9 430.5,213.9 435.0,204.7 449.8,204.7 454.4,196.3 470.1,196.3 473.3,187.2 488.7,187.2 492.3,189.4 508.0,189.4" stroke="#3672a2" stroke-width="0.8"/>
<polyline points="415.7,208.6 430.5,208.6 435.0,195.7 449.8,195.7 454.4,190.9 470.1,190.9 473.3,194.4 488.7,194.4 492.3,164.2 508.0,164.2" stroke="#3773a3" stroke-width="0.8"/>
<polyline points="415.7,206.8 430.5,206.8 435.0,197.5 449.8,197.5 454.4,207.1 470.1,207.1 473.3,190.8 488.7,190.8 492.3,162.4 508.0,162.4" stroke="#3874a5" stroke-width="0.8"/>
<polyline points="415.7,212.2 430.5,212.2 435.0,210.1 449.8,210.1 454.4,201.7 470.1,201.7 473.3,196.2 488.7,196.2 492.3,189.4 508.0,189.4" stroke="#3875a7" stroke-width="0.8"/>
<polyline points="415.7,210.4 430.5,210.4 435.0,202.9 449.8,202.9 454.4,199.9 470.1,199.9 473.3,183.6 488.7,183.6 492.3,178.6 508.0,178.6" stroke="#3976a8" stroke-width="0.8"/>
<polyline points="415.7,210.4 430.5,210.4 435.0,204.7 449.8,204.7 454.4,196.3 470.1,196.3 473.3,163.8 488.7,163.8 492.3,169.6 508.0,169.6" stroke="#3978aa" stroke-width="0.8"/>
<polyline points="415.7,208.6 430.5,208.6 435.0,202.9 449.8,202.9 454.4,210.7 470.1,210.7 473.3,203.4 488.7,203.4 492.3,185.8 508.0,185.8" stroke="#3a79ac" stroke-width="0.8"/>
<polyline points="415.7,208.6 430.5,208.6 435.0,195.7 449.8,195.7 454.4,189.1 470.1,189.1 473.3,180.0 488.7,180.0 492.3,182.2 508.0,182.2" stroke="#3a7aad" stroke-width="0.8"/>
<polyline points="415.7,208.6 430.5,208.6 435.0,208.3 449.8,208.3 454.4,201.7 470.1,201.7 473.3,187.2 488.7,187.2 492.3,180.4 508.0,180.4" stroke="#3b7baf" stroke-width="0.8"/>
<polyline points="415.7,205.0 430.5,205.0 435.0,193.9 449.8,193.9 454.4,187.3 470.1,187.3 473.3,194.4 488.7,194.4 492.3,191.2 508.0,191.2" stroke="#3c7cb0" stroke-width="0.8"/>
<polyline points="415.7,205.0 430.5,205.0 435.0,202.9 449.8,202.9 454.4,201.7 470.1,201.7 473.3,194.4 488.7,194.4 492.3,203.8 508.0,203.8" stroke="#3c7db2" stroke-width="0.8"/>
<polyline points="415.7,208.6 430.5,208.6 435.0,206.5 449.8,206.5 454.4,205.3 470.1,205.3 473.3,183.6 488.7,183.6 492.3,182.2 508.0,182.2" stroke="#3d7eb3" stroke-width="0.8"/>
<polyline points="415.7,210.4 430.5,210.4 435.0,211.5 449.8,211.5 454.4,203.5 470.1,203.5 473.3,192.6 488.7,192.6 492.3,157.0 508.0,157.0" stroke="#3d80b5" stroke-width="0.8"/>
<polyline points="415.7,206.8 430.5,206.8 435.0,192.1 449.8,192.1 454.4,187.3 470.1,187.3 473.3,189.0 488.7,189.0 492.3,158.8 508.0,158.8" stroke="#3e81b6" stroke-width="0.8"/>
<polyline points="415.7,210.4 430.5,210.4 435.0,204.7 449.8,204.7 454.4,196.3 470.1,196.3 473.3,185.4 488.7,185.4 492.3,151.6 508.0,151.6" stroke="#3e82b8" stroke-width="0.8"/>
<polyline points="415.7,208.6 430.5,208.6 435.0,202.9 449.8,202.9 454.4,181.9 470.1,181.9 473.3,172.8 488.7,172.8 492.3,155.2 508.0,155.2" stroke="#3f83b9" stroke-width="0.8"/>
<polyline points="415.7,206.8 430.5,206.8 435.0,195.7 449.8,195.7 454.4,192.7 470.1,192.7 473.3,176.4 488.7,176.4 492.3,182.2 508.0,182.2" stroke="#3f84ba" stroke-width="0.8"/>
<polyline points="415.7,212.2 430.5,212.2 435.0,204.7 449.8,204.7 454.4,194.5 470.1,194.5 473.3,189.0 488.7,189.0 492.3,149.8 508.0,149.8" stroke="#4085bc" stroke-width="0.8"/>
<polyline points="415.7,206.8 430.5,206.8 435.0,197.5 449.8,197.5 454.4,196.3 470.1,196.3 473.3,190.8 488.7,190.8 492.3,184.0 508.0,184.0" stroke="#4186bd" stroke-width="0.8"/>
<polyline points="415.7,203.2 430.5,203.2 435.0,197.5 449.8,197.5 454.4,194.5 470.1,194.5 473.3,165.6 488.7,165.6 492.3,200.2 508.0,200.2" stroke="#4187bf" stroke-width="0.8"/>
<polyline points="415.7,208.6 430.5,208.6 435.0,211.5 449.8,211.5 454.4,208.9 470.1,208.9 473.3,169.2 488.7,169.2 492.3,198.4 508.0,198.4" stroke="#4288c0" stroke-width="0.8"/>
<polyline points="415.7,208.6 430.5,208.6 435.0,202.9 449.8,202.9 454.4,207.1 470.1,207.1 473.3,180.0 488.7,180.0 492.3,191.2 508.0,191.2" stroke="#4289c2" stroke-width="0.8"/>
<polyline points="415.7,206.8 430.5,206.8 435.0,204.7 449.8,204.7 454.4,205.3 470.1,205.3 473.3,198.0 488.7,198.0 492.3,185.8 508.0,185.8" stroke="#438ac3" stroke-width="0.8"/>
<polyline points="415.7,210.4 430.5,210.4 435.0,204.7 449.8,204.7 454.4,180.1 470.1,180.1 473.3,187.2 488.7,187.2 492.3,194.8 508.0,194.8" stroke="#438bc4" stroke-width="0.8"/>
<polyline points="415.7,210.4 430.5,210.4 435.0,204.7 449.8,204.7 454.4,207.1 470.1,207.1 473.3,208.8 488.7,208.8 492.3,209.2 508.0,209.2" stroke="#448cc6" stroke-width="0.8"/>
<polyline points="415.7,205.0 430.5,205.0 435.0,199.3 449.8,199.3 454.4,199.9 470.1,199.9 473.3,190.8 488.7,190.8 492.3,207.4 508.0,207.4" stroke="#448dc7" stroke-width="0.8"/>
<polyline points="415.7,208.6 430.5,208.6 435.0,210.1 449.8,210.1 454.4,194.5 470.1,194.5 473.3,189.0 488.7,189.0 492.3,205.6 508.0,205.6" stroke="#458ec8" stroke-width="0.8"/>
<polyline points="415.7,205.0 430.5,205.0 435.0,199.3 449.8,199.3 454.4,205.3 470.1,205.3 473.3,192.6 488.7,192.6 492.3,185.8 508.0,185.8" stroke="#458fca" stroke-width="0.8"/>
<polyline points="415.7,208.6 430.5,208.6 435.0,201.1 449.8,201.1 454.4,192.7 470.1,192.7 473.3,205.2 488.7,205.2 492.3,202.0 508.0,202.0" stroke="#4690cb" stroke-width="0.8"/>
<polyline points="415.7,206.8 430.5,206.8 435.0,201.1 449.8,201.1 454.4,185.5 470.1,185.5 473.3,196.2 488.7,196.2 492.3,187.6 508.0,187.6" stroke="#4691cc" stroke-width="0.8"/>
<polyline points="415.7,208.6 430.5,208.6 435.0,206.5 449.8,206.5 454.4,190.9 470.1,190.9 473.3,190.8 488.7,190.8 492.3,184.0 508.0,184.0" stroke="#4792ce" stroke-width="0.8"/>
<polyline points="415.7,210.4 430.5,210.4 435.0,201.1 449.8,201.1 454.4,192.7 470.1,192.7 473.3,163.8 488.7,163.8 492.3,155.2 508.0,155.2" stroke="#4793cf" stroke-width="0.8"/>
<polyline points="415.7,206.8 430.5,206.8 435.0,208.3 449.8,208.3 454.4,205.3 470.1,205.3 473.3,192.6 488.7,192.6 492.3,194.8 508.0,194.8" stroke="#4894d0" stroke-width="0.8"/>
<polyline points="415.7,208.6 430.5,208.6 435.0,201.1 449.8,201.1 454.4,194.5 470.1,194.5 473.3,181.8 488.7,181.8 492.3,146.2 508.0,146.2" stroke="#4895d1" stroke-width="0.8"/>
<polyline points="415.7,206.8 430.5,206.8 435.0,202.9 449.8,202.9 454.4,198.1 470.1,198.1 473.3,210.6 488.7,210.6 492.3,209.2 508.0,209.2" stroke="#4896d3" stroke-width="0.8"/>
<polyline points="415.7,203.2 430.5,203.2 435.0,202.9 449.8,202.9 454.4,196.3 470.1,196.3 473.3,187.2 488.7,187.2 492.3,164.2 508.0,164.2" stroke="#4997d4" stroke-width="0.8"/>
<polyline points="415.7,210.4 430.5,210.4 435.0,210.1 449.8,210.1 454.4,196.3 470.1,196.3 473.3,201.6 488.7,201.6 492.3,176.8 508.0,176.8" stroke="#4998d5" stroke-width="0.8"/>
<polyline points="415.7,208.6 430.5,208.6 435.0,208.3 449.8,208.3 454.4,203.5 470.1,203.5 473.3,196.2 488.7,196.2 492.3,153.4 508.0,153.4" stroke="#4a99d6" stroke-width="0.8"/>
<polyline points="415.7,206.8 430.5,206.8 435.0,204.7 449.8,204.7 454.4,192.7 470.1,192.7 473.3,172.8 488.7,172.8 492.3,173.2 508.0,173.2" stroke="#4a9ad8" stroke-width="0.8"/>
<polyline points="415.7,206.8 430.5,206.8 435.0,192.1 449.8,192.1 454.4,181.9 470.1,181.9 473.3,183.6 488.7,183.6 492.3,182.2 508.0,182.2" stroke="#4b9bd9" stroke-width="0.8"/>
<polyline points="415.7,203.2 430.5,203.2 435.0,195.7 449.8,195.7 454.4,207.1 470.1,207.1 473.3,181.8 488.7,181.8 492.3,180.4 508.0,180.4" stroke="#4b9cda" stroke-width="0.8"/>
<polyline points="415.7,210.4 430.5,210.4 435.0,204.7 449.8,204.7 454.4,203.5 470.1,203.5 473.3,198.0 488.7,198.0 492.3,198.4 508.0,198.4" stroke="#4c9cdb" stroke-width="0.8"/>
<polyline points="415.7,208.6 430.5,208.6 435.0,199.3 449.8,199.3 454.4,203.5 470.1,203.5 473.3,189.0 488.7,189.0 492.3,182.2 508.0,182.2" stroke="#4c9ddd" stroke-width="0.8"/>
<polyline points="415.7,203.2 430.5,203.2 435.0,193.9 449.8,193.9 454.4,187.3 470.1,187.3 473.3,165.6 488.7,165.6 492.3,178.6 508.0,178.6" stroke="#4d9ede" stroke-width="0.8"/>
<polyline points="415.7,210.4 430.5,210.4 435.0,208.3 449.8,208.3 454.4,203.5 470.1,203.5 473.3,181.8 488.7,181.8 492.3,182.2 508.0,182.2" stroke="#4d9fdf" stroke-width="0.8"/>
<polyline points="415.7,208.6 430.5,208.6 435.0,201.1 449.8,201.1 454.4,198.1 470.1,198.1 473.3,162.0 488.7,162.0 492.3,167.8 508.0,167.8" stroke="#4ea0e0" stroke-width="0.8"/>
<polyline points="415.7,208.6 430.5,208.6 435.0,206.5 449.8,206.5 454.4,196.3 470.1,196.3 473.3,183.6 488.7,183.6 492.3,209.2 508.0,209.2" stroke="#4ea1e1" stroke-width="0.8"/>
<polyline points="415.7,203.2 430.5,203.2 435.0,202.9 449.8,202.9 454.4,196.3 470.1,196.3 473.3,189.0 488.7,189.0 492.3,178.6 508.0,178.6" stroke="#4ea2e3" stroke-width="0.8"/>
<polyline points="415.7,205.0 430.5,205.0 435.0,193.9 449.8,193.9 454.4,196.3 470.1,196.3 473.3,185.4 488.7,185.4 492.3,200.2 508.0,200.2" stroke="#4fa3e4" stroke-width="0.8"/>
<polyline points="415.7,206.8 430.5,206.8 435.0,201.1 449.8,201.1 454.4,190.9 470.1,190.9 473.3,198.0 488.7,198.0 492.3,194.8 508.0,194.8" stroke="#4fa4e5" stroke-width="0.8"/>
<polyline points="415.7,210.4 430.5,210.4 435.0,204.7 449.8,204.7 454.4,210.7 470.1,210.7 473.3,205.2 488.7,205.2 492.3,171.4 508.0,171.4" stroke="#50a4e6" stroke-width="0.8"/>
<polyline points="415.7,208.6 430.5,208.6 435.0,204.7 449.8,204.7 454.4,196.3 470.1,196.3 473.3,180.0 488.7,180.0 492.3,169.6 508.0,169.6" stroke="#50a5e7" stroke-width="0.8"/>
<polyline points="415.7,208.6 430.5,208.6 435.0,197.5 449.8,197.5 454.4,185.5 470.1,185.5 473.3,167.4 488.7,167.4 492.3,193.0 508.0,193.0" stroke="#51a6e8" stroke-width="0.8"/>
<polyline points="415.7,205.0 430.5,205.0 435.0,204.7 449.8,204.7 454.4,199.9 470.1,199.9 473.3,198.0 488.7,198.0 492.3,211.0 508.0,211.0" stroke="#51a7ea" stroke-width="0.8"/>
<polyline points="415.7,213.9 430.5,213.9 435.0,202.9 449.8,202.9 454.4,189.1 470.1,189.1 473.3,163.8 488.7,163.8 492.3,157.0 508.0,157.0" stroke="#51a8eb" stroke-width="0.8"/>
<polyline points="415.7,210.4 430.5,210.4 435.0,210.1 449.8,210.1 454.4,196.3 470.1,196.3 473.3,181.8 488.7,181.8 492.3,207.4 508.0,207.4" stroke="#52a9ec" stroke-width="0.8"/>
<polyline points="415.7,208.6 430.5,208.6 435.0,202.9 449.8,202.9 454.4,208.9 470.1,208.9 473.3,189.0 488.7,189.0 492.3,180.4 508.0,180.4" stroke="#52aaed" stroke-width="0.8"/>
<polyline points="415.7,206.8 430.5,206.8 435.0,202.9 449.8,202.9 454.4,198.1 470.1,198.1 473.3,189.0 488.7,189.0 492.3,176.8 508.0,176.8" stroke="#53aaee" stroke-width="0.8"/>
<polyline points="415.7,208.6 430.5,208.6 435.0,206.5 449.8,206.5 454.4,194.5 470.1,194.5 473.3,190.8 488.7,190.8 492.3,200.2 508.0,200.2" stroke="#53abef" stroke-width="0.8"/>
<polyline points="415.7,210.4 430.5,210.4 435.0,208.3 449.8,208.3 454.4,205.3 470.1,205.3 473.3,192.6 488.7,192.6 492.3,193.0 508.0,193.0" stroke="#54acf0" stroke-width="0.8"/>
<polyline points="415.7,212.2 430.5,212.2 435.0,210.1 449.8,210.1 454.4,210.7 470.1,210.7 473.3,207.0 488.7,207.0 492.3,166.0 508.0,166.0" stroke="#54adf1" stroke-width="0.8"/>
<polyline points="415.7,205.0 430.5,205.0 435.0,192.1 449.8,192.1 454.4,178.3 470.1,178.3 473.3,176.4 488.7,176.4 492.3,166.0 508.0,166.0" stroke="#54aef3" stroke-width="0.8"/>
<polyline points="415.7,213.9 430.5,213.9 435.0,208.3 449.8,208.3 454.4,201.7 470.1,201.7 473.3,207.0 488.7,207.0 492.3,187.6 508.0,187.6" stroke="#55aff4" stroke-width="0.8"/>
<polyline points="415.7,210.4 430.5,210.4 435.0,201.1 449.8,201.1 454.4,199.9 470.1,199.9 473.3,194.4 488.7,194.4 492.3,175.0 508.0,175.0" stroke="#55aff5" stroke-width="0.8"/>
<polyline points="415.7,212.2 430.5,212.2 435.0,208.3 449.8,208.3 454.4,208.9 470.1,208.9 473.3,187.2 488.7,187.2 492.3,169.6 508.0,169.6" stroke="#56b0f6" stroke-width="0.8"/>
<polyline points="415.7,213.9 430.5,213.9 435.0,208.3 449.8,208.3 454.4,199.9 470.1,199.9 473.3,205.2 488.7,205.2 492.3,203.8 508.0,203.8" stroke="#56b1f7" stroke-width="0.8"/>
<polyline points="415.7,208.2 430.5,208.2 435.0,203.8 449.8,203.8 454.4,197.1 470.1,197.1 473.3,188.5 488.7,188.5 492.3,182.0 508.0,182.0" stroke="#990000" stroke-width="1.7"/>
<text x="524.40" y="110.90" font-size="6.35" fill="#000" stroke="#000" stroke-width="0.18" text-anchor="start" font-weight="bold">Scenario</text>
<text x="538.60" y="118.40" font-size="6.4" fill="#000" stroke="#000" stroke-width="0.18" text-anchor="start" font-weight="normal">100</text>
<text x="538.60" y="133.80" font-size="6.4" fill="#000" stroke="#000" stroke-width="0.18" text-anchor="start" font-weight="normal">75</text>
<text x="538.60" y="148.30" font-size="6.4" fill="#000" stroke="#000" stroke-width="0.18" text-anchor="start" font-weight="normal">50</text>
<text x="538.60" y="162.90" font-size="6.4" fill="#000" stroke="#000" stroke-width="0.18" text-anchor="start" font-weight="normal">25</text>
</svg>
</body></html>
